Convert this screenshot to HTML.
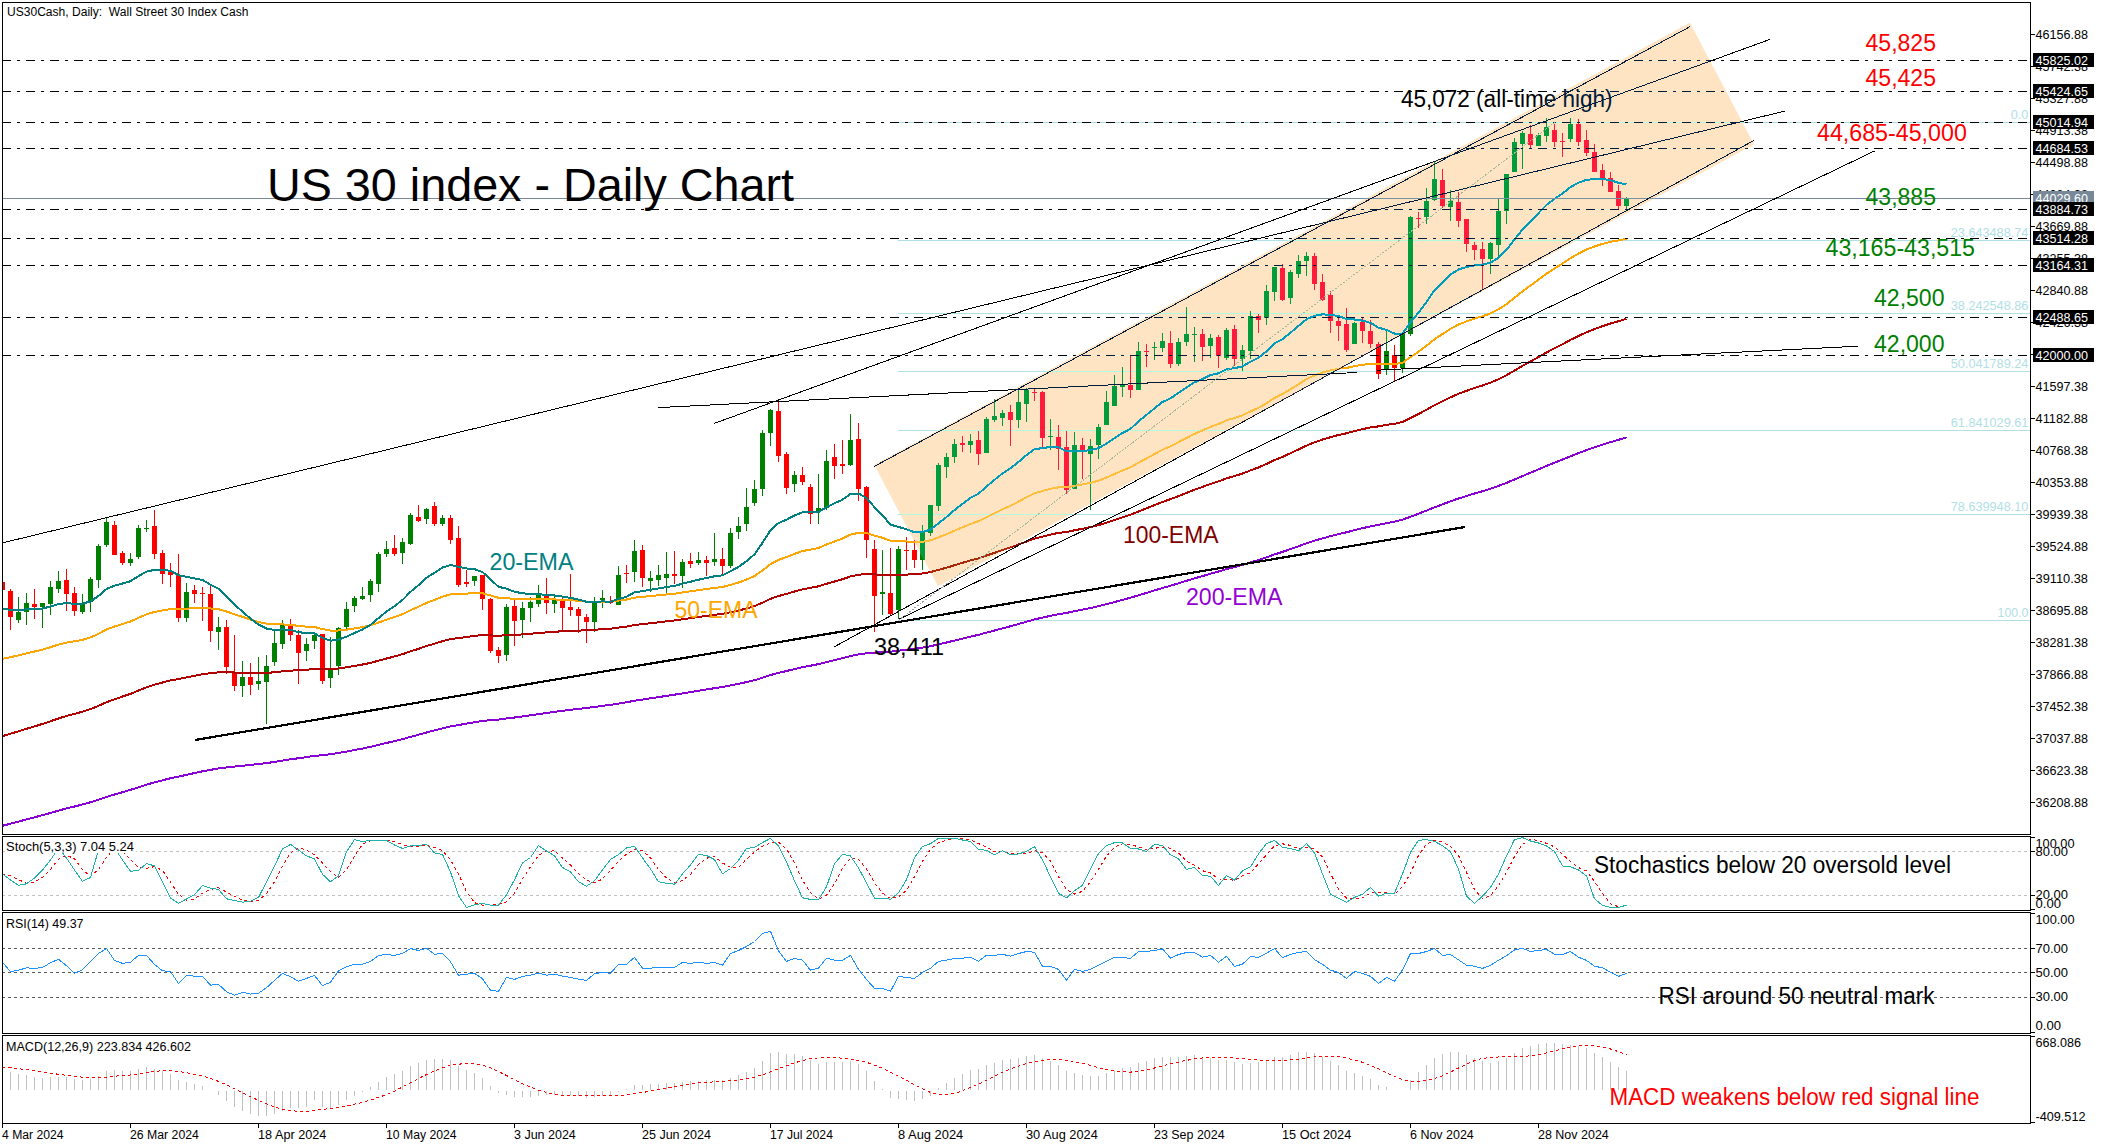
<!DOCTYPE html><html><head><meta charset="utf-8"><title>US30 Daily Chart</title><style>html,body{margin:0;padding:0;background:#fff;width:2107px;height:1147px;overflow:hidden}body{position:relative;font-family:"Liberation Sans", sans-serif}</style></head><body><svg width="2107" height="1147" viewBox="0 0 2107 1147" style="position:absolute;left:0;top:0;font-family:'Liberation Sans', sans-serif">
<rect x="0" y="0" width="2107" height="1147" fill="#ffffff"/>
<defs><clipPath id="cm"><rect x="3" y="3" width="2027" height="831"/></clipPath><clipPath id="cc"><polygon points="874,464.8 1690,22.6 1754.3,144.5 938,586.5"/></clipPath><clipPath id="cs"><rect x="3" y="837" width="2027" height="73"/></clipPath><clipPath id="cr"><rect x="3" y="913" width="2027" height="120"/></clipPath><clipPath id="cd"><rect x="3" y="1036" width="2027" height="87"/></clipPath></defs>
<g clip-path="url(#cm)">
<rect x="898" y="122" width="1132" height="1" fill="#b0e0e6"/><rect x="898" y="240" width="1132" height="1" fill="#b0e0e6"/><rect x="898" y="313" width="1132" height="1" fill="#b0e0e6"/><rect x="898" y="371" width="1132" height="1" fill="#b0e0e6"/><rect x="898" y="430" width="1132" height="1" fill="#b0e0e6"/><rect x="898" y="514" width="1132" height="1" fill="#b0e0e6"/><rect x="898" y="620" width="1132" height="1" fill="#b0e0e6"/><text x="2010.8" y="119.0" font-size="12.5px" fill="#b0e0e6" textLength="17.5" lengthAdjust="spacingAndGlyphs">0.0</text><text x="1950.8" y="237.0" font-size="12.5px" fill="#b0e0e6" textLength="77.5" lengthAdjust="spacingAndGlyphs">23.643488.74</text><text x="1950.8" y="310.0" font-size="12.5px" fill="#b0e0e6" textLength="77.5" lengthAdjust="spacingAndGlyphs">38.242548.86</text><text x="1950.8" y="368.0" font-size="12.5px" fill="#b0e0e6" textLength="77.5" lengthAdjust="spacingAndGlyphs">50.041789.24</text><text x="1950.8" y="427.0" font-size="12.5px" fill="#b0e0e6" textLength="77.5" lengthAdjust="spacingAndGlyphs">61.841029.61</text><text x="1950.8" y="511.0" font-size="12.5px" fill="#b0e0e6" textLength="77.5" lengthAdjust="spacingAndGlyphs">78.639948.10</text><text x="1997.6" y="617.0" font-size="12.5px" fill="#b0e0e6" textLength="30.7" lengthAdjust="spacingAndGlyphs">100.0</text><g shape-rendering="crispEdges"><rect x="2" y="580" width="1" height="12" fill="#ff0000"/><rect x="0" y="582" width="5" height="8" fill="#ff0000"/><rect x="10" y="589" width="1" height="41" fill="#ff0000"/><rect x="8" y="591" width="5" height="26" fill="#ff0000"/><rect x="18" y="597" width="1" height="26" fill="#008000"/><rect x="16" y="612" width="5" height="8" fill="#008000"/><rect x="26" y="593" width="1" height="32" fill="#008000"/><rect x="24" y="603" width="5" height="9" fill="#008000"/><rect x="34" y="589" width="1" height="30" fill="#ff0000"/><rect x="32" y="604" width="5" height="3" fill="#ff0000"/><rect x="42" y="603" width="1" height="25" fill="#008000"/><rect x="40" y="603" width="5" height="4" fill="#008000"/><rect x="50" y="581" width="1" height="34" fill="#008000"/><rect x="48" y="587" width="5" height="17" fill="#008000"/><rect x="58" y="571" width="1" height="22" fill="#008000"/><rect x="56" y="581" width="5" height="8" fill="#008000"/><rect x="66" y="569" width="1" height="42" fill="#ff0000"/><rect x="64" y="580" width="5" height="14" fill="#ff0000"/><rect x="74" y="587" width="1" height="29" fill="#ff0000"/><rect x="72" y="593" width="5" height="18" fill="#ff0000"/><rect x="82" y="594" width="1" height="20" fill="#008000"/><rect x="80" y="603" width="5" height="9" fill="#008000"/><rect x="90" y="577" width="1" height="35" fill="#008000"/><rect x="88" y="579" width="5" height="23" fill="#008000"/><rect x="98" y="544" width="1" height="44" fill="#008000"/><rect x="96" y="546" width="5" height="34" fill="#008000"/><rect x="106" y="518" width="1" height="29" fill="#008000"/><rect x="104" y="522" width="5" height="23" fill="#008000"/><rect x="114" y="521" width="1" height="34" fill="#ff0000"/><rect x="112" y="525" width="5" height="30" fill="#ff0000"/><rect x="122" y="551" width="1" height="14" fill="#ff0000"/><rect x="120" y="553" width="5" height="10" fill="#ff0000"/><rect x="130" y="553" width="1" height="13" fill="#008000"/><rect x="128" y="559" width="5" height="4" fill="#008000"/><rect x="138" y="525" width="1" height="34" fill="#008000"/><rect x="136" y="528" width="5" height="29" fill="#008000"/><rect x="146" y="520" width="1" height="12" fill="#008000"/><rect x="144" y="528" width="5" height="1" fill="#008000"/><rect x="154" y="510" width="1" height="49" fill="#ff0000"/><rect x="152" y="526" width="5" height="28" fill="#ff0000"/><rect x="162" y="550" width="1" height="34" fill="#ff0000"/><rect x="160" y="553" width="5" height="21" fill="#ff0000"/><rect x="170" y="563" width="1" height="24" fill="#ff0000"/><rect x="168" y="572" width="5" height="3" fill="#ff0000"/><rect x="178" y="554" width="1" height="68" fill="#ff0000"/><rect x="176" y="575" width="5" height="43" fill="#ff0000"/><rect x="186" y="583" width="1" height="39" fill="#008000"/><rect x="184" y="592" width="5" height="26" fill="#008000"/><rect x="194" y="585" width="1" height="18" fill="#ff0000"/><rect x="192" y="590" width="5" height="4" fill="#ff0000"/><rect x="202" y="587" width="1" height="34" fill="#ff0000"/><rect x="200" y="593" width="5" height="1" fill="#ff0000"/><rect x="210" y="586" width="1" height="56" fill="#ff0000"/><rect x="208" y="594" width="5" height="37" fill="#ff0000"/><rect x="218" y="617" width="1" height="33" fill="#008000"/><rect x="216" y="627" width="5" height="5" fill="#008000"/><rect x="226" y="620" width="1" height="54" fill="#ff0000"/><rect x="224" y="627" width="5" height="40" fill="#ff0000"/><rect x="234" y="635" width="1" height="56" fill="#ff0000"/><rect x="232" y="672" width="5" height="14" fill="#ff0000"/><rect x="242" y="661" width="1" height="36" fill="#008000"/><rect x="240" y="677" width="5" height="9" fill="#008000"/><rect x="250" y="663" width="1" height="32" fill="#ff0000"/><rect x="248" y="677" width="5" height="8" fill="#ff0000"/><rect x="258" y="657" width="1" height="33" fill="#008000"/><rect x="256" y="681" width="5" height="3" fill="#008000"/><rect x="266" y="655" width="1" height="69" fill="#008000"/><rect x="264" y="666" width="5" height="16" fill="#008000"/><rect x="274" y="630" width="1" height="36" fill="#008000"/><rect x="272" y="643" width="5" height="19" fill="#008000"/><rect x="282" y="620" width="1" height="29" fill="#008000"/><rect x="280" y="625" width="5" height="19" fill="#008000"/><rect x="290" y="619" width="1" height="22" fill="#ff0000"/><rect x="288" y="625" width="5" height="10" fill="#ff0000"/><rect x="298" y="630" width="1" height="54" fill="#ff0000"/><rect x="296" y="635" width="5" height="18" fill="#ff0000"/><rect x="306" y="638" width="1" height="23" fill="#008000"/><rect x="304" y="644" width="5" height="7" fill="#008000"/><rect x="314" y="634" width="1" height="15" fill="#008000"/><rect x="312" y="635" width="5" height="6" fill="#008000"/><rect x="322" y="634" width="1" height="50" fill="#ff0000"/><rect x="320" y="634" width="5" height="47" fill="#ff0000"/><rect x="330" y="637" width="1" height="51" fill="#008000"/><rect x="328" y="668" width="5" height="10" fill="#008000"/><rect x="338" y="627" width="1" height="48" fill="#008000"/><rect x="336" y="628" width="5" height="38" fill="#008000"/><rect x="346" y="602" width="1" height="29" fill="#008000"/><rect x="344" y="609" width="5" height="18" fill="#008000"/><rect x="354" y="596" width="1" height="16" fill="#008000"/><rect x="352" y="598" width="5" height="8" fill="#008000"/><rect x="362" y="587" width="1" height="13" fill="#008000"/><rect x="360" y="596" width="5" height="3" fill="#008000"/><rect x="370" y="579" width="1" height="23" fill="#008000"/><rect x="368" y="581" width="5" height="14" fill="#008000"/><rect x="378" y="552" width="1" height="40" fill="#008000"/><rect x="376" y="554" width="5" height="30" fill="#008000"/><rect x="386" y="541" width="1" height="16" fill="#008000"/><rect x="384" y="549" width="5" height="5" fill="#008000"/><rect x="394" y="535" width="1" height="21" fill="#ff0000"/><rect x="392" y="548" width="5" height="6" fill="#ff0000"/><rect x="402" y="538" width="1" height="26" fill="#008000"/><rect x="400" y="542" width="5" height="11" fill="#008000"/><rect x="410" y="513" width="1" height="32" fill="#008000"/><rect x="408" y="515" width="5" height="29" fill="#008000"/><rect x="418" y="505" width="1" height="17" fill="#ff0000"/><rect x="416" y="517" width="5" height="4" fill="#ff0000"/><rect x="426" y="508" width="1" height="16" fill="#008000"/><rect x="424" y="509" width="5" height="10" fill="#008000"/><rect x="434" y="502" width="1" height="24" fill="#ff0000"/><rect x="432" y="506" width="5" height="18" fill="#ff0000"/><rect x="442" y="515" width="1" height="11" fill="#008000"/><rect x="440" y="518" width="5" height="6" fill="#008000"/><rect x="450" y="515" width="1" height="29" fill="#ff0000"/><rect x="448" y="518" width="5" height="22" fill="#ff0000"/><rect x="458" y="526" width="1" height="61" fill="#ff0000"/><rect x="456" y="538" width="5" height="47" fill="#ff0000"/><rect x="466" y="570" width="1" height="17" fill="#ff0000"/><rect x="464" y="582" width="5" height="2" fill="#ff0000"/><rect x="474" y="576" width="1" height="10" fill="#008000"/><rect x="472" y="576" width="5" height="5" fill="#008000"/><rect x="482" y="575" width="1" height="35" fill="#ff0000"/><rect x="480" y="575" width="5" height="24" fill="#ff0000"/><rect x="490" y="598" width="1" height="55" fill="#ff0000"/><rect x="488" y="599" width="5" height="52" fill="#ff0000"/><rect x="498" y="647" width="1" height="16" fill="#ff0000"/><rect x="496" y="650" width="5" height="6" fill="#ff0000"/><rect x="506" y="604" width="1" height="57" fill="#008000"/><rect x="504" y="607" width="5" height="48" fill="#008000"/><rect x="514" y="600" width="1" height="46" fill="#ff0000"/><rect x="512" y="606" width="5" height="15" fill="#ff0000"/><rect x="522" y="602" width="1" height="36" fill="#008000"/><rect x="520" y="608" width="5" height="12" fill="#008000"/><rect x="530" y="597" width="1" height="25" fill="#008000"/><rect x="528" y="602" width="5" height="6" fill="#008000"/><rect x="538" y="585" width="1" height="22" fill="#008000"/><rect x="536" y="595" width="5" height="9" fill="#008000"/><rect x="546" y="578" width="1" height="36" fill="#ff0000"/><rect x="544" y="595" width="5" height="8" fill="#ff0000"/><rect x="554" y="596" width="1" height="17" fill="#008000"/><rect x="552" y="600" width="5" height="4" fill="#008000"/><rect x="562" y="597" width="1" height="33" fill="#ff0000"/><rect x="560" y="599" width="5" height="9" fill="#ff0000"/><rect x="570" y="574" width="1" height="42" fill="#ff0000"/><rect x="568" y="607" width="5" height="3" fill="#ff0000"/><rect x="578" y="607" width="1" height="26" fill="#ff0000"/><rect x="576" y="609" width="5" height="7" fill="#ff0000"/><rect x="586" y="614" width="1" height="29" fill="#ff0000"/><rect x="584" y="617" width="5" height="5" fill="#ff0000"/><rect x="594" y="597" width="1" height="35" fill="#008000"/><rect x="592" y="602" width="5" height="20" fill="#008000"/><rect x="602" y="590" width="1" height="18" fill="#008000"/><rect x="600" y="598" width="5" height="2" fill="#008000"/><rect x="610" y="596" width="1" height="8" fill="#ff0000"/><rect x="608" y="602" width="5" height="1" fill="#ff0000"/><rect x="618" y="566" width="1" height="39" fill="#008000"/><rect x="616" y="575" width="5" height="30" fill="#008000"/><rect x="626" y="565" width="1" height="18" fill="#ff0000"/><rect x="624" y="573" width="5" height="1" fill="#ff0000"/><rect x="634" y="540" width="1" height="42" fill="#008000"/><rect x="632" y="551" width="5" height="21" fill="#008000"/><rect x="642" y="545" width="1" height="42" fill="#ff0000"/><rect x="640" y="550" width="5" height="28" fill="#ff0000"/><rect x="650" y="571" width="1" height="21" fill="#008000"/><rect x="648" y="578" width="5" height="3" fill="#008000"/><rect x="658" y="565" width="1" height="21" fill="#008000"/><rect x="656" y="575" width="5" height="5" fill="#008000"/><rect x="666" y="552" width="1" height="41" fill="#008000"/><rect x="664" y="574" width="5" height="4" fill="#008000"/><rect x="674" y="551" width="1" height="33" fill="#ff0000"/><rect x="672" y="574" width="5" height="2" fill="#ff0000"/><rect x="682" y="559" width="1" height="29" fill="#008000"/><rect x="680" y="562" width="5" height="14" fill="#008000"/><rect x="690" y="553" width="1" height="15" fill="#ff0000"/><rect x="688" y="561" width="5" height="3" fill="#ff0000"/><rect x="698" y="552" width="1" height="13" fill="#008000"/><rect x="696" y="560" width="5" height="3" fill="#008000"/><rect x="706" y="556" width="1" height="20" fill="#ff0000"/><rect x="704" y="560" width="5" height="3" fill="#ff0000"/><rect x="714" y="533" width="1" height="33" fill="#008000"/><rect x="712" y="559" width="5" height="3" fill="#008000"/><rect x="722" y="548" width="1" height="26" fill="#ff0000"/><rect x="720" y="559" width="5" height="7" fill="#ff0000"/><rect x="730" y="528" width="1" height="40" fill="#008000"/><rect x="728" y="533" width="5" height="33" fill="#008000"/><rect x="738" y="517" width="1" height="22" fill="#008000"/><rect x="736" y="526" width="5" height="6" fill="#008000"/><rect x="746" y="488" width="1" height="43" fill="#008000"/><rect x="744" y="507" width="5" height="17" fill="#008000"/><rect x="754" y="480" width="1" height="26" fill="#008000"/><rect x="752" y="489" width="5" height="14" fill="#008000"/><rect x="762" y="430" width="1" height="66" fill="#008000"/><rect x="760" y="433" width="5" height="56" fill="#008000"/><rect x="770" y="409" width="1" height="37" fill="#008000"/><rect x="768" y="410" width="5" height="23" fill="#008000"/><rect x="778" y="402" width="1" height="60" fill="#ff0000"/><rect x="776" y="411" width="5" height="45" fill="#ff0000"/><rect x="786" y="452" width="1" height="42" fill="#ff0000"/><rect x="784" y="454" width="5" height="34" fill="#ff0000"/><rect x="794" y="471" width="1" height="21" fill="#008000"/><rect x="792" y="475" width="5" height="9" fill="#008000"/><rect x="802" y="467" width="1" height="18" fill="#ff0000"/><rect x="800" y="475" width="5" height="7" fill="#ff0000"/><rect x="810" y="484" width="1" height="40" fill="#ff0000"/><rect x="808" y="487" width="5" height="27" fill="#ff0000"/><rect x="818" y="474" width="1" height="50" fill="#008000"/><rect x="816" y="508" width="5" height="4" fill="#008000"/><rect x="826" y="450" width="1" height="60" fill="#008000"/><rect x="824" y="461" width="5" height="47" fill="#008000"/><rect x="834" y="444" width="1" height="35" fill="#ff0000"/><rect x="832" y="457" width="5" height="9" fill="#ff0000"/><rect x="842" y="440" width="1" height="34" fill="#ff0000"/><rect x="840" y="464" width="5" height="2" fill="#ff0000"/><rect x="850" y="414" width="1" height="52" fill="#008000"/><rect x="848" y="440" width="5" height="25" fill="#008000"/><rect x="858" y="423" width="1" height="78" fill="#ff0000"/><rect x="856" y="439" width="5" height="50" fill="#ff0000"/><rect x="866" y="486" width="1" height="72" fill="#ff0000"/><rect x="864" y="487" width="5" height="53" fill="#ff0000"/><rect x="874" y="540" width="1" height="92" fill="#ff0000"/><rect x="872" y="549" width="5" height="47" fill="#ff0000"/><rect x="882" y="550" width="1" height="65" fill="#008000"/><rect x="880" y="592" width="5" height="2" fill="#008000"/><rect x="890" y="548" width="1" height="67" fill="#ff0000"/><rect x="888" y="593" width="5" height="21" fill="#ff0000"/><rect x="898" y="546" width="1" height="73" fill="#008000"/><rect x="896" y="549" width="5" height="61" fill="#008000"/><rect x="906" y="537" width="1" height="33" fill="#ff0000"/><rect x="904" y="550" width="5" height="1" fill="#ff0000"/><rect x="914" y="540" width="1" height="28" fill="#ff0000"/><rect x="912" y="550" width="5" height="10" fill="#ff0000"/><rect x="922" y="525" width="1" height="45" fill="#008000"/><rect x="920" y="532" width="5" height="28" fill="#008000"/><rect x="930" y="505" width="1" height="31" fill="#008000"/><rect x="928" y="505" width="5" height="28" fill="#008000"/><rect x="938" y="463" width="1" height="48" fill="#008000"/><rect x="936" y="465" width="5" height="41" fill="#008000"/><rect x="946" y="453" width="1" height="25" fill="#008000"/><rect x="944" y="457" width="5" height="10" fill="#008000"/><rect x="954" y="439" width="1" height="24" fill="#008000"/><rect x="952" y="444" width="5" height="13" fill="#008000"/><rect x="962" y="436" width="1" height="16" fill="#ff0000"/><rect x="960" y="443" width="5" height="2" fill="#ff0000"/><rect x="970" y="434" width="1" height="19" fill="#008000"/><rect x="968" y="441" width="5" height="4" fill="#008000"/><rect x="978" y="431" width="1" height="34" fill="#ff0000"/><rect x="976" y="440" width="5" height="14" fill="#ff0000"/><rect x="986" y="417" width="1" height="36" fill="#008000"/><rect x="984" y="419" width="5" height="34" fill="#008000"/><rect x="994" y="399" width="1" height="23" fill="#008000"/><rect x="992" y="416" width="5" height="4" fill="#008000"/><rect x="1002" y="410" width="1" height="16" fill="#008000"/><rect x="1000" y="413" width="5" height="5" fill="#008000"/><rect x="1010" y="405" width="1" height="41" fill="#ff0000"/><rect x="1008" y="412" width="5" height="8" fill="#ff0000"/><rect x="1018" y="388" width="1" height="40" fill="#008000"/><rect x="1016" y="402" width="5" height="18" fill="#008000"/><rect x="1026" y="388" width="1" height="34" fill="#008000"/><rect x="1024" y="390" width="5" height="14" fill="#008000"/><rect x="1034" y="389" width="1" height="12" fill="#ff0000"/><rect x="1032" y="392" width="5" height="1" fill="#ff0000"/><rect x="1042" y="391" width="1" height="56" fill="#ff0000"/><rect x="1040" y="392" width="5" height="46" fill="#ff0000"/><rect x="1050" y="419" width="1" height="31" fill="#008000"/><rect x="1048" y="436" width="5" height="1" fill="#008000"/><rect x="1058" y="425" width="1" height="45" fill="#ff0000"/><rect x="1056" y="437" width="5" height="12" fill="#ff0000"/><rect x="1066" y="431" width="1" height="63" fill="#ff0000"/><rect x="1064" y="447" width="5" height="43" fill="#ff0000"/><rect x="1074" y="432" width="1" height="57" fill="#008000"/><rect x="1072" y="445" width="5" height="44" fill="#008000"/><rect x="1082" y="438" width="1" height="41" fill="#ff0000"/><rect x="1080" y="445" width="5" height="7" fill="#ff0000"/><rect x="1090" y="439" width="1" height="71" fill="#008000"/><rect x="1088" y="446" width="5" height="8" fill="#008000"/><rect x="1098" y="424" width="1" height="35" fill="#008000"/><rect x="1096" y="427" width="5" height="18" fill="#008000"/><rect x="1106" y="391" width="1" height="34" fill="#008000"/><rect x="1104" y="402" width="5" height="23" fill="#008000"/><rect x="1114" y="375" width="1" height="31" fill="#008000"/><rect x="1112" y="386" width="5" height="20" fill="#008000"/><rect x="1122" y="367" width="1" height="30" fill="#008000"/><rect x="1120" y="384" width="5" height="3" fill="#008000"/><rect x="1130" y="356" width="1" height="42" fill="#ff0000"/><rect x="1128" y="385" width="5" height="5" fill="#ff0000"/><rect x="1138" y="342" width="1" height="48" fill="#008000"/><rect x="1136" y="351" width="5" height="39" fill="#008000"/><rect x="1146" y="344" width="1" height="23" fill="#ff0000"/><rect x="1144" y="351" width="5" height="1" fill="#ff0000"/><rect x="1154" y="342" width="1" height="18" fill="#008000"/><rect x="1152" y="347" width="5" height="1" fill="#008000"/><rect x="1162" y="333" width="1" height="19" fill="#008000"/><rect x="1160" y="341" width="5" height="7" fill="#008000"/><rect x="1170" y="331" width="1" height="37" fill="#ff0000"/><rect x="1168" y="343" width="5" height="21" fill="#ff0000"/><rect x="1178" y="338" width="1" height="28" fill="#008000"/><rect x="1176" y="342" width="5" height="22" fill="#008000"/><rect x="1186" y="307" width="1" height="39" fill="#008000"/><rect x="1184" y="334" width="5" height="8" fill="#008000"/><rect x="1194" y="327" width="1" height="35" fill="#008000"/><rect x="1192" y="334" width="5" height="1" fill="#008000"/><rect x="1202" y="329" width="1" height="32" fill="#ff0000"/><rect x="1200" y="334" width="5" height="13" fill="#ff0000"/><rect x="1210" y="334" width="1" height="24" fill="#008000"/><rect x="1208" y="338" width="5" height="8" fill="#008000"/><rect x="1218" y="335" width="1" height="33" fill="#ff0000"/><rect x="1216" y="337" width="5" height="19" fill="#ff0000"/><rect x="1226" y="328" width="1" height="32" fill="#008000"/><rect x="1224" y="330" width="5" height="28" fill="#008000"/><rect x="1234" y="325" width="1" height="41" fill="#ff0000"/><rect x="1232" y="329" width="5" height="30" fill="#ff0000"/><rect x="1242" y="345" width="1" height="26" fill="#008000"/><rect x="1240" y="350" width="5" height="9" fill="#008000"/><rect x="1250" y="311" width="1" height="48" fill="#008000"/><rect x="1248" y="316" width="5" height="35" fill="#008000"/><rect x="1258" y="314" width="1" height="19" fill="#ff0000"/><rect x="1256" y="316" width="5" height="4" fill="#ff0000"/><rect x="1266" y="285" width="1" height="40" fill="#008000"/><rect x="1264" y="291" width="5" height="27" fill="#008000"/><rect x="1274" y="267" width="1" height="34" fill="#008000"/><rect x="1272" y="267" width="5" height="25" fill="#008000"/><rect x="1282" y="264" width="1" height="37" fill="#ff0000"/><rect x="1280" y="268" width="5" height="32" fill="#ff0000"/><rect x="1290" y="270" width="1" height="34" fill="#008000"/><rect x="1288" y="272" width="5" height="26" fill="#008000"/><rect x="1298" y="255" width="1" height="23" fill="#008000"/><rect x="1296" y="261" width="5" height="13" fill="#008000"/><rect x="1306" y="252" width="1" height="24" fill="#008000"/><rect x="1304" y="256" width="5" height="5" fill="#008000"/><rect x="1314" y="253" width="1" height="37" fill="#ff0000"/><rect x="1312" y="256" width="5" height="28" fill="#ff0000"/><rect x="1322" y="274" width="1" height="27" fill="#ff0000"/><rect x="1320" y="282" width="5" height="18" fill="#ff0000"/><rect x="1330" y="291" width="1" height="42" fill="#ff0000"/><rect x="1328" y="295" width="5" height="26" fill="#ff0000"/><rect x="1338" y="315" width="1" height="26" fill="#ff0000"/><rect x="1336" y="321" width="5" height="5" fill="#ff0000"/><rect x="1346" y="308" width="1" height="44" fill="#ff0000"/><rect x="1344" y="324" width="5" height="26" fill="#ff0000"/><rect x="1354" y="322" width="1" height="22" fill="#008000"/><rect x="1352" y="323" width="5" height="21" fill="#008000"/><rect x="1362" y="318" width="1" height="25" fill="#ff0000"/><rect x="1360" y="322" width="5" height="9" fill="#ff0000"/><rect x="1370" y="320" width="1" height="28" fill="#ff0000"/><rect x="1368" y="331" width="5" height="13" fill="#ff0000"/><rect x="1378" y="342" width="1" height="37" fill="#ff0000"/><rect x="1376" y="344" width="5" height="30" fill="#ff0000"/><rect x="1386" y="331" width="1" height="44" fill="#008000"/><rect x="1384" y="351" width="5" height="19" fill="#008000"/><rect x="1394" y="345" width="1" height="37" fill="#ff0000"/><rect x="1392" y="355" width="5" height="13" fill="#ff0000"/><rect x="1402" y="332" width="1" height="41" fill="#008000"/><rect x="1400" y="333" width="5" height="35" fill="#008000"/><rect x="1410" y="216" width="1" height="120" fill="#008000"/><rect x="1408" y="217" width="5" height="117" fill="#008000"/><rect x="1418" y="212" width="1" height="16" fill="#ff0000"/><rect x="1416" y="218" width="5" height="1" fill="#ff0000"/><rect x="1426" y="188" width="1" height="36" fill="#008000"/><rect x="1424" y="201" width="5" height="16" fill="#008000"/><rect x="1434" y="162" width="1" height="39" fill="#008000"/><rect x="1432" y="179" width="5" height="21" fill="#008000"/><rect x="1442" y="169" width="1" height="39" fill="#ff0000"/><rect x="1440" y="180" width="5" height="26" fill="#ff0000"/><rect x="1450" y="190" width="1" height="31" fill="#008000"/><rect x="1448" y="201" width="5" height="6" fill="#008000"/><rect x="1458" y="192" width="1" height="35" fill="#ff0000"/><rect x="1456" y="202" width="5" height="19" fill="#ff0000"/><rect x="1466" y="219" width="1" height="33" fill="#ff0000"/><rect x="1464" y="219" width="5" height="25" fill="#ff0000"/><rect x="1474" y="242" width="1" height="18" fill="#ff0000"/><rect x="1472" y="245" width="5" height="5" fill="#ff0000"/><rect x="1482" y="242" width="1" height="47" fill="#ff0000"/><rect x="1480" y="249" width="5" height="10" fill="#ff0000"/><rect x="1490" y="242" width="1" height="32" fill="#008000"/><rect x="1488" y="243" width="5" height="16" fill="#008000"/><rect x="1498" y="199" width="1" height="57" fill="#008000"/><rect x="1496" y="211" width="5" height="34" fill="#008000"/><rect x="1506" y="174" width="1" height="50" fill="#008000"/><rect x="1504" y="174" width="5" height="37" fill="#008000"/><rect x="1514" y="138" width="1" height="34" fill="#008000"/><rect x="1512" y="142" width="5" height="30" fill="#008000"/><rect x="1522" y="131" width="1" height="38" fill="#008000"/><rect x="1520" y="133" width="5" height="11" fill="#008000"/><rect x="1530" y="125" width="1" height="23" fill="#ff0000"/><rect x="1528" y="134" width="5" height="11" fill="#ff0000"/><rect x="1538" y="133" width="1" height="13" fill="#008000"/><rect x="1536" y="135" width="5" height="11" fill="#008000"/><rect x="1546" y="118" width="1" height="24" fill="#008000"/><rect x="1544" y="127" width="5" height="9" fill="#008000"/><rect x="1554" y="124" width="1" height="23" fill="#ff0000"/><rect x="1552" y="130" width="5" height="12" fill="#ff0000"/><rect x="1562" y="133" width="1" height="24" fill="#ff0000"/><rect x="1560" y="141" width="5" height="1" fill="#ff0000"/><rect x="1570" y="118" width="1" height="24" fill="#008000"/><rect x="1568" y="124" width="5" height="15" fill="#008000"/><rect x="1578" y="119" width="1" height="27" fill="#ff0000"/><rect x="1576" y="124" width="5" height="18" fill="#ff0000"/><rect x="1586" y="130" width="1" height="26" fill="#ff0000"/><rect x="1584" y="140" width="5" height="13" fill="#ff0000"/><rect x="1594" y="144" width="1" height="28" fill="#ff0000"/><rect x="1592" y="152" width="5" height="20" fill="#ff0000"/><rect x="1602" y="164" width="1" height="22" fill="#ff0000"/><rect x="1600" y="170" width="5" height="8" fill="#ff0000"/><rect x="1610" y="172" width="1" height="20" fill="#ff0000"/><rect x="1608" y="178" width="5" height="14" fill="#ff0000"/><rect x="1618" y="185" width="1" height="24" fill="#ff0000"/><rect x="1616" y="191" width="5" height="15" fill="#ff0000"/><rect x="1626" y="197" width="1" height="12" fill="#008000"/><rect x="1624" y="199" width="5" height="7" fill="#008000"/></g><polyline points="2.5,825.8 10.5,823.73 18.5,821.62 26.5,819.45 34.5,817.33 42.5,815.2 50.5,812.93 58.5,810.62 66.5,808.46 74.5,806.49 82.5,804.47 90.5,802.22 98.5,799.67 106.5,796.91 114.5,794.5 122.5,792.19 130.5,789.87 138.5,787.27 146.5,784.69 154.5,782.39 162.5,780.31 170.5,778.27 178.5,776.67 186.5,774.84 194.5,773.04 202.5,771.26 210.5,769.86 218.5,768.44 226.5,767.43 234.5,766.61 242.5,765.72 250.5,764.92 258.5,764.08 266.5,763.11 274.5,761.91 282.5,760.55 290.5,759.3 298.5,758.24 306.5,757.1 314.5,755.89 322.5,755.14 330.5,754.27 338.5,753.02 346.5,751.58 354.5,750.06 362.5,748.53 370.5,746.86 378.5,744.94 386.5,742.99 394.5,741.11 402.5,739.13 410.5,736.9 418.5,734.75 426.5,732.51 434.5,730.43 442.5,728.32 450.5,726.44 458.5,725.04 466.5,723.64 474.5,722.17 482.5,720.94 490.5,720.24 498.5,719.6 506.5,718.48 514.5,717.51 522.5,716.42 530.5,715.28 538.5,714.08 546.5,712.97 554.5,711.84 562.5,710.81 570.5,709.8 578.5,708.87 586.5,708.01 594.5,706.95 602.5,705.87 610.5,704.85 618.5,703.56 626.5,702.27 634.5,700.76 642.5,699.55 650.5,698.34 658.5,697.11 666.5,695.89 674.5,694.69 682.5,693.37 690.5,692.08 698.5,690.77 706.5,689.49 714.5,688.2 722.5,686.98 730.5,685.44 738.5,683.85 746.5,682.1 754.5,680.18 762.5,677.72 770.5,675.05 778.5,672.87 786.5,671.03 794.5,669.08 802.5,667.22 810.5,665.69 818.5,664.13 826.5,662.11 834.5,660.16 842.5,658.22 850.5,656.05 858.5,654.39 866.5,653.25 874.5,652.67 882.5,652.07 890.5,651.69 898.5,650.66 906.5,649.67 914.5,648.78 922.5,647.61 930.5,646.19 938.5,644.39 946.5,642.52 954.5,640.55 962.5,638.6 970.5,636.63 978.5,634.81 986.5,632.66 994.5,630.5 1002.5,628.34 1010.5,626.26 1018.5,624.03 1026.5,621.7 1034.5,619.43 1042.5,617.62 1050.5,615.81 1058.5,614.15 1066.5,612.91 1074.5,611.24 1082.5,609.66 1090.5,608.03 1098.5,606.23 1106.5,604.19 1114.5,602.02 1122.5,599.85 1130.5,597.76 1138.5,595.3 1146.5,592.88 1154.5,590.44 1162.5,587.96 1170.5,585.72 1178.5,583.3 1186.5,580.82 1194.5,578.37 1202.5,576.06 1210.5,573.7 1218.5,571.53 1226.5,569.13 1234.5,567.04 1242.5,564.88 1250.5,562.4 1258.5,559.99 1266.5,557.31 1274.5,554.42 1282.5,551.89 1290.5,549.1 1298.5,546.24 1306.5,543.35 1314.5,540.76 1322.5,538.36 1330.5,536.2 1338.5,534.1 1346.5,532.27 1354.5,530.19 1362.5,528.21 1370.5,526.37 1378.5,524.85 1386.5,523.12 1394.5,521.58 1402.5,519.71 1410.5,516.7 1418.5,513.74 1426.5,510.63 1434.5,507.33 1442.5,504.33 1450.5,501.32 1458.5,498.52 1466.5,495.99 1474.5,493.54 1482.5,491.2 1490.5,488.74 1498.5,485.97 1506.5,482.87 1514.5,479.48 1522.5,476.03 1530.5,472.74 1538.5,469.38 1546.5,465.97 1554.5,462.75 1562.5,459.57 1570.5,456.23 1578.5,453.1 1586.5,450.11 1594.5,447.34 1602.5,444.66 1610.5,442.15 1618.5,439.81 1626.5,437.41" fill="none" stroke="#8a00d4" stroke-width="2" stroke-linejoin="round" shape-rendering="crispEdges"/><polyline points="2.5,736.1 10.5,733.75 18.5,731.34 26.5,728.8 34.5,726.39 42.5,723.94 50.5,721.23 58.5,718.45 66.5,715.98 74.5,713.9 82.5,711.7 90.5,709.06 98.5,705.84 106.5,702.2 114.5,699.27 122.5,696.57 130.5,693.85 138.5,690.57 146.5,687.34 154.5,684.7 162.5,682.5 170.5,680.37 178.5,679.13 186.5,677.42 194.5,675.76 202.5,674.14 210.5,673.28 218.5,672.37 226.5,672.26 234.5,672.52 242.5,672.61 250.5,672.86 258.5,673.02 266.5,672.88 274.5,672.29 282.5,671.35 290.5,670.62 298.5,670.27 306.5,669.75 314.5,669.06 322.5,669.29 330.5,669.27 338.5,668.46 346.5,667.28 354.5,665.91 362.5,664.53 370.5,662.87 378.5,660.72 386.5,658.51 394.5,656.44 402.5,654.17 410.5,651.42 418.5,648.84 426.5,646.07 434.5,643.65 442.5,641.17 450.5,639.16 458.5,638.09 466.5,637.02 474.5,635.81 482.5,635.08 490.5,635.39 498.5,635.79 506.5,635.22 514.5,634.94 522.5,634.4 530.5,633.76 538.5,632.98 546.5,632.38 554.5,631.74 562.5,631.27 570.5,630.84 578.5,630.55 586.5,630.38 594.5,629.82 602.5,629.19 610.5,628.68 618.5,627.62 626.5,626.56 634.5,625.06 642.5,624.14 650.5,623.23 658.5,622.28 666.5,621.32 674.5,620.42 682.5,619.26 690.5,618.16 698.5,617.01 706.5,615.93 714.5,614.81 722.5,613.84 730.5,612.23 738.5,610.52 746.5,608.47 754.5,606.11 762.5,602.68 770.5,598.87 778.5,596.03 786.5,593.89 794.5,591.54 802.5,589.38 810.5,587.88 818.5,586.3 826.5,583.82 834.5,581.5 842.5,579.2 850.5,576.44 858.5,574.71 866.5,574.01 874.5,574.44 882.5,574.79 890.5,575.56 898.5,575.03 906.5,574.56 914.5,574.26 922.5,573.42 930.5,572.06 938.5,569.94 946.5,567.69 954.5,565.25 962.5,562.86 970.5,560.45 978.5,558.33 986.5,555.57 994.5,552.81 1002.5,550.03 1010.5,547.45 1018.5,544.57 1026.5,541.51 1034.5,538.57 1042.5,536.57 1050.5,534.57 1058.5,532.89 1066.5,532.03 1074.5,530.3 1082.5,528.76 1090.5,527.12 1098.5,525.13 1106.5,522.69 1114.5,519.98 1122.5,517.29 1130.5,514.76 1138.5,511.51 1146.5,508.36 1154.5,505.16 1162.5,501.92 1170.5,499.18 1178.5,496.07 1186.5,492.86 1194.5,489.72 1202.5,486.89 1210.5,483.94 1218.5,481.42 1226.5,478.42 1234.5,476.05 1242.5,473.56 1250.5,470.44 1258.5,467.45 1266.5,463.96 1274.5,460.06 1282.5,456.89 1290.5,453.23 1298.5,449.42 1306.5,445.59 1314.5,442.38 1322.5,439.55 1330.5,437.2 1338.5,434.99 1346.5,433.3 1354.5,431.11 1362.5,429.14 1370.5,427.44 1378.5,426.38 1386.5,424.89 1394.5,423.77 1402.5,421.97 1410.5,417.92 1418.5,413.99 1426.5,409.77 1434.5,405.21 1442.5,401.27 1450.5,397.3 1458.5,393.81 1466.5,390.84 1474.5,388.05 1482.5,385.48 1490.5,382.66 1498.5,379.26 1506.5,375.21 1514.5,370.59 1522.5,365.89 1530.5,361.51 1538.5,357.02 1546.5,352.47 1554.5,348.31 1562.5,344.24 1570.5,339.88 1578.5,335.96 1586.5,332.33 1594.5,329.15 1602.5,326.16 1610.5,323.51 1618.5,321.2 1626.5,318.77" fill="none" stroke="#b00000" stroke-width="2" stroke-linejoin="round" shape-rendering="crispEdges"/><polyline points="2.5,658.8 10.5,657.18 18.5,655.41 26.5,653.36 34.5,651.53 42.5,649.63 50.5,647.17 58.5,644.58 66.5,642.58 74.5,641.33 82.5,639.83 90.5,637.42 98.5,633.84 106.5,629.45 114.5,626.52 122.5,624.02 130.5,621.48 138.5,617.82 146.5,614.28 154.5,611.91 162.5,610.41 170.5,609.02 178.5,609.37 186.5,608.7 194.5,608.12 202.5,607.56 210.5,608.47 218.5,609.2 226.5,611.46 234.5,614.37 242.5,616.83 250.5,619.5 258.5,621.92 266.5,623.65 274.5,624.41 282.5,624.42 290.5,624.83 298.5,625.92 306.5,626.63 314.5,626.96 322.5,629.07 330.5,630.61 338.5,630.5 346.5,629.66 354.5,628.43 362.5,627.16 370.5,625.35 378.5,622.56 386.5,619.67 394.5,617.09 402.5,614.15 410.5,610.27 418.5,606.77 426.5,602.94 434.5,599.84 442.5,596.64 450.5,594.41 458.5,594.05 466.5,593.65 474.5,592.96 482.5,593.19 490.5,595.45 498.5,597.81 506.5,598.17 514.5,599.06 522.5,599.41 530.5,599.51 538.5,599.32 546.5,599.44 554.5,599.46 562.5,599.79 570.5,600.17 578.5,600.81 586.5,601.64 594.5,601.65 602.5,601.52 610.5,601.59 618.5,600.55 626.5,599.51 634.5,597.61 642.5,596.86 650.5,596.12 658.5,595.3 666.5,594.47 674.5,593.73 682.5,592.49 690.5,591.35 698.5,590.13 706.5,589.05 714.5,587.88 722.5,587.01 730.5,584.89 738.5,582.56 746.5,579.6 754.5,576.06 762.5,570.45 770.5,564.16 778.5,559.91 786.5,557.08 794.5,553.86 802.5,551.07 810.5,549.59 818.5,547.97 826.5,544.57 834.5,541.51 842.5,538.52 850.5,534.65 858.5,532.86 866.5,533.13 874.5,535.58 882.5,537.79 890.5,540.77 898.5,541.08 906.5,541.47 914.5,542.19 922.5,541.77 930.5,540.32 938.5,537.37 946.5,534.2 954.5,530.68 962.5,527.31 970.5,523.92 978.5,521.16 986.5,517.15 994.5,513.18 1002.5,509.24 1010.5,505.73 1018.5,501.65 1026.5,497.27 1034.5,493.19 1042.5,491.01 1050.5,488.84 1058.5,487.3 1066.5,487.38 1074.5,485.72 1082.5,484.41 1090.5,482.9 1098.5,480.7 1106.5,477.61 1114.5,474.01 1122.5,470.48 1130.5,467.3 1138.5,462.74 1146.5,458.4 1154.5,454.04 1162.5,449.61 1170.5,446.25 1178.5,442.16 1186.5,437.92 1194.5,433.86 1202.5,430.44 1210.5,426.82 1218.5,424.06 1226.5,420.37 1234.5,417.96 1242.5,415.3 1250.5,411.4 1258.5,407.81 1266.5,403.23 1274.5,397.89 1282.5,394.05 1290.5,389.25 1298.5,384.22 1306.5,379.19 1314.5,375.44 1322.5,372.47 1330.5,370.43 1338.5,368.68 1346.5,367.93 1354.5,366.17 1362.5,364.81 1370.5,363.97 1378.5,364.36 1386.5,363.84 1394.5,364.02 1402.5,362.79 1410.5,357.09 1418.5,351.69 1426.5,345.78 1434.5,339.25 1442.5,334.04 1450.5,328.82 1458.5,324.58 1466.5,321.42 1474.5,318.62 1482.5,316.26 1490.5,313.39 1498.5,309.37 1506.5,304.08 1514.5,297.72 1522.5,291.27 1530.5,285.53 1538.5,279.62 1546.5,273.64 1554.5,268.5 1562.5,263.56 1570.5,258.09 1578.5,253.53 1586.5,249.58 1594.5,246.52 1602.5,243.85 1610.5,241.83 1618.5,240.45 1626.5,238.81" fill="none" stroke="#ffa500" stroke-width="2" stroke-linejoin="round" shape-rendering="crispEdges"/><polyline points="2.5,609 10.5,609.8 18.5,610.03 26.5,609.36 34.5,609.12 42.5,608.53 50.5,606.47 58.5,604.06 66.5,603.06 74.5,603.79 82.5,603.71 90.5,601.32 98.5,596.05 106.5,589 114.5,585.73 122.5,583.54 130.5,581.22 138.5,576.16 146.5,571.55 154.5,569.86 162.5,570.23 170.5,570.67 178.5,575.18 186.5,576.81 194.5,578.43 202.5,579.91 210.5,584.75 218.5,588.78 226.5,596.22 234.5,604.73 242.5,611.62 250.5,618.61 258.5,624.56 266.5,628.51 274.5,629.89 282.5,629.39 290.5,629.91 298.5,632.08 306.5,633.22 314.5,633.39 322.5,637.9 330.5,640.79 338.5,639.58 346.5,636.67 354.5,633.01 362.5,629.48 370.5,624.87 378.5,618.14 386.5,611.55 394.5,606.05 402.5,599.97 410.5,591.9 418.5,585.15 426.5,577.89 434.5,572.76 442.5,567.56 450.5,564.91 458.5,566.84 466.5,568.48 474.5,569.2 482.5,572.02 490.5,579.51 498.5,586.76 506.5,588.7 514.5,591.76 522.5,593.29 530.5,594.12 538.5,594.17 546.5,594.97 554.5,595.43 562.5,596.62 570.5,597.85 578.5,599.63 586.5,601.74 594.5,601.76 602.5,601.44 610.5,601.61 618.5,599.09 626.5,596.7 634.5,592.36 642.5,591.04 650.5,589.8 658.5,588.41 666.5,587.03 674.5,585.96 682.5,583.68 690.5,581.76 698.5,579.71 706.5,578.08 714.5,576.29 722.5,575.28 730.5,571.23 738.5,566.88 746.5,561.2 754.5,554.34 762.5,542.78 770.5,530.14 778.5,523.06 786.5,519.71 794.5,515.45 802.5,512.31 810.5,512.43 818.5,512.02 826.5,507.18 834.5,503.31 842.5,499.71 850.5,494 858.5,493.52 866.5,497.91 874.5,507.22 882.5,515.29 890.5,524.66 898.5,526.96 906.5,529.26 914.5,532.17 922.5,532.11 930.5,529.5 938.5,523.35 946.5,517.01 954.5,510.08 962.5,503.85 970.5,497.87 978.5,493.64 986.5,486.52 994.5,479.8 1002.5,473.41 1010.5,468.29 1018.5,461.96 1026.5,455.11 1034.5,449.2 1042.5,448.1 1050.5,446.93 1058.5,447.16 1066.5,451.19 1074.5,450.61 1082.5,450.76 1090.5,450.3 1098.5,448.06 1106.5,443.66 1114.5,438.15 1122.5,432.99 1130.5,428.86 1138.5,421.43 1146.5,414.83 1154.5,408.39 1162.5,401.98 1170.5,398.34 1178.5,392.98 1186.5,387.38 1194.5,382.32 1202.5,378.92 1210.5,375.05 1218.5,373.28 1226.5,369.14 1234.5,368.16 1242.5,366.45 1250.5,361.64 1258.5,357.64 1266.5,351.31 1274.5,343.28 1282.5,339.16 1290.5,332.74 1298.5,325.9 1306.5,319.24 1314.5,315.84 1322.5,314.3 1330.5,314.9 1338.5,315.94 1346.5,319.14 1354.5,319.5 1362.5,320.64 1370.5,322.81 1378.5,327.68 1386.5,329.92 1394.5,333.57 1402.5,333.5 1410.5,322.43 1418.5,312.61 1426.5,301.99 1434.5,290.3 1442.5,282.31 1450.5,274.57 1458.5,269.44 1466.5,267 1474.5,265.38 1482.5,264.74 1490.5,262.67 1498.5,257.74 1506.5,249.8 1514.5,239.53 1522.5,229.4 1530.5,221.35 1538.5,213.12 1546.5,204.93 1554.5,198.98 1562.5,193.61 1570.5,187 1578.5,182.69 1586.5,179.83 1594.5,179.05 1602.5,178.99 1610.5,180.28 1618.5,182.77 1626.5,184.29" fill="none" stroke="#008080" stroke-width="2" stroke-linejoin="round" shape-rendering="crispEdges"/><line x1="2" y1="60.5" x2="2030" y2="60.5" stroke="#000000" stroke-width="1" stroke-dasharray="9 6 3 6" shape-rendering="crispEdges"/><line x1="2" y1="91.5" x2="2030" y2="91.5" stroke="#000000" stroke-width="1" stroke-dasharray="9 6 3 6" shape-rendering="crispEdges"/><line x1="2" y1="122.5" x2="2030" y2="122.5" stroke="#000000" stroke-width="1" stroke-dasharray="9 6 3 6" shape-rendering="crispEdges"/><line x1="2" y1="148.5" x2="2030" y2="148.5" stroke="#000000" stroke-width="1" stroke-dasharray="9 6 3 6" shape-rendering="crispEdges"/><line x1="2" y1="209.5" x2="2030" y2="209.5" stroke="#000000" stroke-width="1" stroke-dasharray="9 6 3 6" shape-rendering="crispEdges"/><line x1="2" y1="238.5" x2="2030" y2="238.5" stroke="#000000" stroke-width="1" stroke-dasharray="9 6 3 6" shape-rendering="crispEdges"/><line x1="2" y1="265.5" x2="2030" y2="265.5" stroke="#000000" stroke-width="1" stroke-dasharray="9 6 3 6" shape-rendering="crispEdges"/><line x1="2" y1="317.5" x2="2030" y2="317.5" stroke="#000000" stroke-width="1" stroke-dasharray="9 6 3 6" shape-rendering="crispEdges"/><line x1="2" y1="355.5" x2="2030" y2="355.5" stroke="#000000" stroke-width="1" stroke-dasharray="9 6 3 6" shape-rendering="crispEdges"/><line x1="2" y1="198.5" x2="2030" y2="198.5" stroke="#778899" stroke-width="1" shape-rendering="crispEdges"/><line x1="2" y1="543" x2="1785.6" y2="110.9" stroke="#000000" stroke-width="1" shape-rendering="crispEdges"/><line x1="714" y1="423.5" x2="1770" y2="39.4" stroke="#000000" stroke-width="1" shape-rendering="crispEdges"/><line x1="658" y1="407.6" x2="1356.6" y2="372.5" stroke="#000000" stroke-width="1" shape-rendering="crispEdges"/><line x1="1377" y1="370.2" x2="1858" y2="346.2" stroke="#000000" stroke-width="1" shape-rendering="crispEdges"/><line x1="898.6" y1="619.4" x2="1874.5" y2="151" stroke="#000000" stroke-width="1" shape-rendering="crispEdges"/><line x1="834" y1="647" x2="1754" y2="140.4" stroke="#000000" stroke-width="1" shape-rendering="crispEdges"/><line x1="874.3" y1="466.4" x2="1690.1" y2="26.6" stroke="#000000" stroke-width="1" shape-rendering="crispEdges"/><line x1="898.6" y1="620.2" x2="1555" y2="122.2" stroke="#a0a0a0" stroke-width="1" stroke-dasharray="2 1.3" shape-rendering="crispEdges"/><line x1="195" y1="740" x2="1465" y2="527" stroke="#000000" stroke-width="2.2" shape-rendering="crispEdges"/><text x="1401" y="106.8" font-size="23px" fill="#000000" textLength="211.5" lengthAdjust="spacingAndGlyphs">45,072 (all-time high)</text>
<g clip-path="url(#cc)">
<polygon points="874,464.8 1690,22.6 1754.3,144.5 938,586.5" fill="#ffe4c4"/>
<rect x="898" y="122" width="1132" height="1" fill="#b0fbdd"/><rect x="898" y="240" width="1132" height="1" fill="#b0fbdd"/><rect x="898" y="313" width="1132" height="1" fill="#b0fbdd"/><rect x="898" y="371" width="1132" height="1" fill="#b0fbdd"/><rect x="898" y="430" width="1132" height="1" fill="#b0fbdd"/><rect x="898" y="514" width="1132" height="1" fill="#b0fbdd"/><rect x="898" y="620" width="1132" height="1" fill="#b0fbdd"/><text x="2010.8" y="119.0" font-size="12.5px" fill="#b0fbdd" textLength="17.5" lengthAdjust="spacingAndGlyphs">0.0</text><text x="1950.8" y="237.0" font-size="12.5px" fill="#b0fbdd" textLength="77.5" lengthAdjust="spacingAndGlyphs">23.643488.74</text><text x="1950.8" y="310.0" font-size="12.5px" fill="#b0fbdd" textLength="77.5" lengthAdjust="spacingAndGlyphs">38.242548.86</text><text x="1950.8" y="368.0" font-size="12.5px" fill="#b0fbdd" textLength="77.5" lengthAdjust="spacingAndGlyphs">50.041789.24</text><text x="1950.8" y="427.0" font-size="12.5px" fill="#b0fbdd" textLength="77.5" lengthAdjust="spacingAndGlyphs">61.841029.61</text><text x="1950.8" y="511.0" font-size="12.5px" fill="#b0fbdd" textLength="77.5" lengthAdjust="spacingAndGlyphs">78.639948.10</text><text x="1997.6" y="617.0" font-size="12.5px" fill="#b0fbdd" textLength="30.7" lengthAdjust="spacingAndGlyphs">100.0</text><g shape-rendering="crispEdges"><rect x="2" y="580" width="1" height="12" fill="#ff1b3b"/><rect x="0" y="582" width="5" height="8" fill="#ff1b3b"/><rect x="10" y="589" width="1" height="41" fill="#ff1b3b"/><rect x="8" y="591" width="5" height="26" fill="#ff1b3b"/><rect x="18" y="597" width="1" height="26" fill="#009b3b"/><rect x="16" y="612" width="5" height="8" fill="#009b3b"/><rect x="26" y="593" width="1" height="32" fill="#009b3b"/><rect x="24" y="603" width="5" height="9" fill="#009b3b"/><rect x="34" y="589" width="1" height="30" fill="#ff1b3b"/><rect x="32" y="604" width="5" height="3" fill="#ff1b3b"/><rect x="42" y="603" width="1" height="25" fill="#009b3b"/><rect x="40" y="603" width="5" height="4" fill="#009b3b"/><rect x="50" y="581" width="1" height="34" fill="#009b3b"/><rect x="48" y="587" width="5" height="17" fill="#009b3b"/><rect x="58" y="571" width="1" height="22" fill="#009b3b"/><rect x="56" y="581" width="5" height="8" fill="#009b3b"/><rect x="66" y="569" width="1" height="42" fill="#ff1b3b"/><rect x="64" y="580" width="5" height="14" fill="#ff1b3b"/><rect x="74" y="587" width="1" height="29" fill="#ff1b3b"/><rect x="72" y="593" width="5" height="18" fill="#ff1b3b"/><rect x="82" y="594" width="1" height="20" fill="#009b3b"/><rect x="80" y="603" width="5" height="9" fill="#009b3b"/><rect x="90" y="577" width="1" height="35" fill="#009b3b"/><rect x="88" y="579" width="5" height="23" fill="#009b3b"/><rect x="98" y="544" width="1" height="44" fill="#009b3b"/><rect x="96" y="546" width="5" height="34" fill="#009b3b"/><rect x="106" y="518" width="1" height="29" fill="#009b3b"/><rect x="104" y="522" width="5" height="23" fill="#009b3b"/><rect x="114" y="521" width="1" height="34" fill="#ff1b3b"/><rect x="112" y="525" width="5" height="30" fill="#ff1b3b"/><rect x="122" y="551" width="1" height="14" fill="#ff1b3b"/><rect x="120" y="553" width="5" height="10" fill="#ff1b3b"/><rect x="130" y="553" width="1" height="13" fill="#009b3b"/><rect x="128" y="559" width="5" height="4" fill="#009b3b"/><rect x="138" y="525" width="1" height="34" fill="#009b3b"/><rect x="136" y="528" width="5" height="29" fill="#009b3b"/><rect x="146" y="520" width="1" height="12" fill="#009b3b"/><rect x="144" y="528" width="5" height="1" fill="#009b3b"/><rect x="154" y="510" width="1" height="49" fill="#ff1b3b"/><rect x="152" y="526" width="5" height="28" fill="#ff1b3b"/><rect x="162" y="550" width="1" height="34" fill="#ff1b3b"/><rect x="160" y="553" width="5" height="21" fill="#ff1b3b"/><rect x="170" y="563" width="1" height="24" fill="#ff1b3b"/><rect x="168" y="572" width="5" height="3" fill="#ff1b3b"/><rect x="178" y="554" width="1" height="68" fill="#ff1b3b"/><rect x="176" y="575" width="5" height="43" fill="#ff1b3b"/><rect x="186" y="583" width="1" height="39" fill="#009b3b"/><rect x="184" y="592" width="5" height="26" fill="#009b3b"/><rect x="194" y="585" width="1" height="18" fill="#ff1b3b"/><rect x="192" y="590" width="5" height="4" fill="#ff1b3b"/><rect x="202" y="587" width="1" height="34" fill="#ff1b3b"/><rect x="200" y="593" width="5" height="1" fill="#ff1b3b"/><rect x="210" y="586" width="1" height="56" fill="#ff1b3b"/><rect x="208" y="594" width="5" height="37" fill="#ff1b3b"/><rect x="218" y="617" width="1" height="33" fill="#009b3b"/><rect x="216" y="627" width="5" height="5" fill="#009b3b"/><rect x="226" y="620" width="1" height="54" fill="#ff1b3b"/><rect x="224" y="627" width="5" height="40" fill="#ff1b3b"/><rect x="234" y="635" width="1" height="56" fill="#ff1b3b"/><rect x="232" y="672" width="5" height="14" fill="#ff1b3b"/><rect x="242" y="661" width="1" height="36" fill="#009b3b"/><rect x="240" y="677" width="5" height="9" fill="#009b3b"/><rect x="250" y="663" width="1" height="32" fill="#ff1b3b"/><rect x="248" y="677" width="5" height="8" fill="#ff1b3b"/><rect x="258" y="657" width="1" height="33" fill="#009b3b"/><rect x="256" y="681" width="5" height="3" fill="#009b3b"/><rect x="266" y="655" width="1" height="69" fill="#009b3b"/><rect x="264" y="666" width="5" height="16" fill="#009b3b"/><rect x="274" y="630" width="1" height="36" fill="#009b3b"/><rect x="272" y="643" width="5" height="19" fill="#009b3b"/><rect x="282" y="620" width="1" height="29" fill="#009b3b"/><rect x="280" y="625" width="5" height="19" fill="#009b3b"/><rect x="290" y="619" width="1" height="22" fill="#ff1b3b"/><rect x="288" y="625" width="5" height="10" fill="#ff1b3b"/><rect x="298" y="630" width="1" height="54" fill="#ff1b3b"/><rect x="296" y="635" width="5" height="18" fill="#ff1b3b"/><rect x="306" y="638" width="1" height="23" fill="#009b3b"/><rect x="304" y="644" width="5" height="7" fill="#009b3b"/><rect x="314" y="634" width="1" height="15" fill="#009b3b"/><rect x="312" y="635" width="5" height="6" fill="#009b3b"/><rect x="322" y="634" width="1" height="50" fill="#ff1b3b"/><rect x="320" y="634" width="5" height="47" fill="#ff1b3b"/><rect x="330" y="637" width="1" height="51" fill="#009b3b"/><rect x="328" y="668" width="5" height="10" fill="#009b3b"/><rect x="338" y="627" width="1" height="48" fill="#009b3b"/><rect x="336" y="628" width="5" height="38" fill="#009b3b"/><rect x="346" y="602" width="1" height="29" fill="#009b3b"/><rect x="344" y="609" width="5" height="18" fill="#009b3b"/><rect x="354" y="596" width="1" height="16" fill="#009b3b"/><rect x="352" y="598" width="5" height="8" fill="#009b3b"/><rect x="362" y="587" width="1" height="13" fill="#009b3b"/><rect x="360" y="596" width="5" height="3" fill="#009b3b"/><rect x="370" y="579" width="1" height="23" fill="#009b3b"/><rect x="368" y="581" width="5" height="14" fill="#009b3b"/><rect x="378" y="552" width="1" height="40" fill="#009b3b"/><rect x="376" y="554" width="5" height="30" fill="#009b3b"/><rect x="386" y="541" width="1" height="16" fill="#009b3b"/><rect x="384" y="549" width="5" height="5" fill="#009b3b"/><rect x="394" y="535" width="1" height="21" fill="#ff1b3b"/><rect x="392" y="548" width="5" height="6" fill="#ff1b3b"/><rect x="402" y="538" width="1" height="26" fill="#009b3b"/><rect x="400" y="542" width="5" height="11" fill="#009b3b"/><rect x="410" y="513" width="1" height="32" fill="#009b3b"/><rect x="408" y="515" width="5" height="29" fill="#009b3b"/><rect x="418" y="505" width="1" height="17" fill="#ff1b3b"/><rect x="416" y="517" width="5" height="4" fill="#ff1b3b"/><rect x="426" y="508" width="1" height="16" fill="#009b3b"/><rect x="424" y="509" width="5" height="10" fill="#009b3b"/><rect x="434" y="502" width="1" height="24" fill="#ff1b3b"/><rect x="432" y="506" width="5" height="18" fill="#ff1b3b"/><rect x="442" y="515" width="1" height="11" fill="#009b3b"/><rect x="440" y="518" width="5" height="6" fill="#009b3b"/><rect x="450" y="515" width="1" height="29" fill="#ff1b3b"/><rect x="448" y="518" width="5" height="22" fill="#ff1b3b"/><rect x="458" y="526" width="1" height="61" fill="#ff1b3b"/><rect x="456" y="538" width="5" height="47" fill="#ff1b3b"/><rect x="466" y="570" width="1" height="17" fill="#ff1b3b"/><rect x="464" y="582" width="5" height="2" fill="#ff1b3b"/><rect x="474" y="576" width="1" height="10" fill="#009b3b"/><rect x="472" y="576" width="5" height="5" fill="#009b3b"/><rect x="482" y="575" width="1" height="35" fill="#ff1b3b"/><rect x="480" y="575" width="5" height="24" fill="#ff1b3b"/><rect x="490" y="598" width="1" height="55" fill="#ff1b3b"/><rect x="488" y="599" width="5" height="52" fill="#ff1b3b"/><rect x="498" y="647" width="1" height="16" fill="#ff1b3b"/><rect x="496" y="650" width="5" height="6" fill="#ff1b3b"/><rect x="506" y="604" width="1" height="57" fill="#009b3b"/><rect x="504" y="607" width="5" height="48" fill="#009b3b"/><rect x="514" y="600" width="1" height="46" fill="#ff1b3b"/><rect x="512" y="606" width="5" height="15" fill="#ff1b3b"/><rect x="522" y="602" width="1" height="36" fill="#009b3b"/><rect x="520" y="608" width="5" height="12" fill="#009b3b"/><rect x="530" y="597" width="1" height="25" fill="#009b3b"/><rect x="528" y="602" width="5" height="6" fill="#009b3b"/><rect x="538" y="585" width="1" height="22" fill="#009b3b"/><rect x="536" y="595" width="5" height="9" fill="#009b3b"/><rect x="546" y="578" width="1" height="36" fill="#ff1b3b"/><rect x="544" y="595" width="5" height="8" fill="#ff1b3b"/><rect x="554" y="596" width="1" height="17" fill="#009b3b"/><rect x="552" y="600" width="5" height="4" fill="#009b3b"/><rect x="562" y="597" width="1" height="33" fill="#ff1b3b"/><rect x="560" y="599" width="5" height="9" fill="#ff1b3b"/><rect x="570" y="574" width="1" height="42" fill="#ff1b3b"/><rect x="568" y="607" width="5" height="3" fill="#ff1b3b"/><rect x="578" y="607" width="1" height="26" fill="#ff1b3b"/><rect x="576" y="609" width="5" height="7" fill="#ff1b3b"/><rect x="586" y="614" width="1" height="29" fill="#ff1b3b"/><rect x="584" y="617" width="5" height="5" fill="#ff1b3b"/><rect x="594" y="597" width="1" height="35" fill="#009b3b"/><rect x="592" y="602" width="5" height="20" fill="#009b3b"/><rect x="602" y="590" width="1" height="18" fill="#009b3b"/><rect x="600" y="598" width="5" height="2" fill="#009b3b"/><rect x="610" y="596" width="1" height="8" fill="#ff1b3b"/><rect x="608" y="602" width="5" height="1" fill="#ff1b3b"/><rect x="618" y="566" width="1" height="39" fill="#009b3b"/><rect x="616" y="575" width="5" height="30" fill="#009b3b"/><rect x="626" y="565" width="1" height="18" fill="#ff1b3b"/><rect x="624" y="573" width="5" height="1" fill="#ff1b3b"/><rect x="634" y="540" width="1" height="42" fill="#009b3b"/><rect x="632" y="551" width="5" height="21" fill="#009b3b"/><rect x="642" y="545" width="1" height="42" fill="#ff1b3b"/><rect x="640" y="550" width="5" height="28" fill="#ff1b3b"/><rect x="650" y="571" width="1" height="21" fill="#009b3b"/><rect x="648" y="578" width="5" height="3" fill="#009b3b"/><rect x="658" y="565" width="1" height="21" fill="#009b3b"/><rect x="656" y="575" width="5" height="5" fill="#009b3b"/><rect x="666" y="552" width="1" height="41" fill="#009b3b"/><rect x="664" y="574" width="5" height="4" fill="#009b3b"/><rect x="674" y="551" width="1" height="33" fill="#ff1b3b"/><rect x="672" y="574" width="5" height="2" fill="#ff1b3b"/><rect x="682" y="559" width="1" height="29" fill="#009b3b"/><rect x="680" y="562" width="5" height="14" fill="#009b3b"/><rect x="690" y="553" width="1" height="15" fill="#ff1b3b"/><rect x="688" y="561" width="5" height="3" fill="#ff1b3b"/><rect x="698" y="552" width="1" height="13" fill="#009b3b"/><rect x="696" y="560" width="5" height="3" fill="#009b3b"/><rect x="706" y="556" width="1" height="20" fill="#ff1b3b"/><rect x="704" y="560" width="5" height="3" fill="#ff1b3b"/><rect x="714" y="533" width="1" height="33" fill="#009b3b"/><rect x="712" y="559" width="5" height="3" fill="#009b3b"/><rect x="722" y="548" width="1" height="26" fill="#ff1b3b"/><rect x="720" y="559" width="5" height="7" fill="#ff1b3b"/><rect x="730" y="528" width="1" height="40" fill="#009b3b"/><rect x="728" y="533" width="5" height="33" fill="#009b3b"/><rect x="738" y="517" width="1" height="22" fill="#009b3b"/><rect x="736" y="526" width="5" height="6" fill="#009b3b"/><rect x="746" y="488" width="1" height="43" fill="#009b3b"/><rect x="744" y="507" width="5" height="17" fill="#009b3b"/><rect x="754" y="480" width="1" height="26" fill="#009b3b"/><rect x="752" y="489" width="5" height="14" fill="#009b3b"/><rect x="762" y="430" width="1" height="66" fill="#009b3b"/><rect x="760" y="433" width="5" height="56" fill="#009b3b"/><rect x="770" y="409" width="1" height="37" fill="#009b3b"/><rect x="768" y="410" width="5" height="23" fill="#009b3b"/><rect x="778" y="402" width="1" height="60" fill="#ff1b3b"/><rect x="776" y="411" width="5" height="45" fill="#ff1b3b"/><rect x="786" y="452" width="1" height="42" fill="#ff1b3b"/><rect x="784" y="454" width="5" height="34" fill="#ff1b3b"/><rect x="794" y="471" width="1" height="21" fill="#009b3b"/><rect x="792" y="475" width="5" height="9" fill="#009b3b"/><rect x="802" y="467" width="1" height="18" fill="#ff1b3b"/><rect x="800" y="475" width="5" height="7" fill="#ff1b3b"/><rect x="810" y="484" width="1" height="40" fill="#ff1b3b"/><rect x="808" y="487" width="5" height="27" fill="#ff1b3b"/><rect x="818" y="474" width="1" height="50" fill="#009b3b"/><rect x="816" y="508" width="5" height="4" fill="#009b3b"/><rect x="826" y="450" width="1" height="60" fill="#009b3b"/><rect x="824" y="461" width="5" height="47" fill="#009b3b"/><rect x="834" y="444" width="1" height="35" fill="#ff1b3b"/><rect x="832" y="457" width="5" height="9" fill="#ff1b3b"/><rect x="842" y="440" width="1" height="34" fill="#ff1b3b"/><rect x="840" y="464" width="5" height="2" fill="#ff1b3b"/><rect x="850" y="414" width="1" height="52" fill="#009b3b"/><rect x="848" y="440" width="5" height="25" fill="#009b3b"/><rect x="858" y="423" width="1" height="78" fill="#ff1b3b"/><rect x="856" y="439" width="5" height="50" fill="#ff1b3b"/><rect x="866" y="486" width="1" height="72" fill="#ff1b3b"/><rect x="864" y="487" width="5" height="53" fill="#ff1b3b"/><rect x="874" y="540" width="1" height="92" fill="#ff1b3b"/><rect x="872" y="549" width="5" height="47" fill="#ff1b3b"/><rect x="882" y="550" width="1" height="65" fill="#009b3b"/><rect x="880" y="592" width="5" height="2" fill="#009b3b"/><rect x="890" y="548" width="1" height="67" fill="#ff1b3b"/><rect x="888" y="593" width="5" height="21" fill="#ff1b3b"/><rect x="898" y="546" width="1" height="73" fill="#009b3b"/><rect x="896" y="549" width="5" height="61" fill="#009b3b"/><rect x="906" y="537" width="1" height="33" fill="#ff1b3b"/><rect x="904" y="550" width="5" height="1" fill="#ff1b3b"/><rect x="914" y="540" width="1" height="28" fill="#ff1b3b"/><rect x="912" y="550" width="5" height="10" fill="#ff1b3b"/><rect x="922" y="525" width="1" height="45" fill="#009b3b"/><rect x="920" y="532" width="5" height="28" fill="#009b3b"/><rect x="930" y="505" width="1" height="31" fill="#009b3b"/><rect x="928" y="505" width="5" height="28" fill="#009b3b"/><rect x="938" y="463" width="1" height="48" fill="#009b3b"/><rect x="936" y="465" width="5" height="41" fill="#009b3b"/><rect x="946" y="453" width="1" height="25" fill="#009b3b"/><rect x="944" y="457" width="5" height="10" fill="#009b3b"/><rect x="954" y="439" width="1" height="24" fill="#009b3b"/><rect x="952" y="444" width="5" height="13" fill="#009b3b"/><rect x="962" y="436" width="1" height="16" fill="#ff1b3b"/><rect x="960" y="443" width="5" height="2" fill="#ff1b3b"/><rect x="970" y="434" width="1" height="19" fill="#009b3b"/><rect x="968" y="441" width="5" height="4" fill="#009b3b"/><rect x="978" y="431" width="1" height="34" fill="#ff1b3b"/><rect x="976" y="440" width="5" height="14" fill="#ff1b3b"/><rect x="986" y="417" width="1" height="36" fill="#009b3b"/><rect x="984" y="419" width="5" height="34" fill="#009b3b"/><rect x="994" y="399" width="1" height="23" fill="#009b3b"/><rect x="992" y="416" width="5" height="4" fill="#009b3b"/><rect x="1002" y="410" width="1" height="16" fill="#009b3b"/><rect x="1000" y="413" width="5" height="5" fill="#009b3b"/><rect x="1010" y="405" width="1" height="41" fill="#ff1b3b"/><rect x="1008" y="412" width="5" height="8" fill="#ff1b3b"/><rect x="1018" y="388" width="1" height="40" fill="#009b3b"/><rect x="1016" y="402" width="5" height="18" fill="#009b3b"/><rect x="1026" y="388" width="1" height="34" fill="#009b3b"/><rect x="1024" y="390" width="5" height="14" fill="#009b3b"/><rect x="1034" y="389" width="1" height="12" fill="#ff1b3b"/><rect x="1032" y="392" width="5" height="1" fill="#ff1b3b"/><rect x="1042" y="391" width="1" height="56" fill="#ff1b3b"/><rect x="1040" y="392" width="5" height="46" fill="#ff1b3b"/><rect x="1050" y="419" width="1" height="31" fill="#009b3b"/><rect x="1048" y="436" width="5" height="1" fill="#009b3b"/><rect x="1058" y="425" width="1" height="45" fill="#ff1b3b"/><rect x="1056" y="437" width="5" height="12" fill="#ff1b3b"/><rect x="1066" y="431" width="1" height="63" fill="#ff1b3b"/><rect x="1064" y="447" width="5" height="43" fill="#ff1b3b"/><rect x="1074" y="432" width="1" height="57" fill="#009b3b"/><rect x="1072" y="445" width="5" height="44" fill="#009b3b"/><rect x="1082" y="438" width="1" height="41" fill="#ff1b3b"/><rect x="1080" y="445" width="5" height="7" fill="#ff1b3b"/><rect x="1090" y="439" width="1" height="71" fill="#009b3b"/><rect x="1088" y="446" width="5" height="8" fill="#009b3b"/><rect x="1098" y="424" width="1" height="35" fill="#009b3b"/><rect x="1096" y="427" width="5" height="18" fill="#009b3b"/><rect x="1106" y="391" width="1" height="34" fill="#009b3b"/><rect x="1104" y="402" width="5" height="23" fill="#009b3b"/><rect x="1114" y="375" width="1" height="31" fill="#009b3b"/><rect x="1112" y="386" width="5" height="20" fill="#009b3b"/><rect x="1122" y="367" width="1" height="30" fill="#009b3b"/><rect x="1120" y="384" width="5" height="3" fill="#009b3b"/><rect x="1130" y="356" width="1" height="42" fill="#ff1b3b"/><rect x="1128" y="385" width="5" height="5" fill="#ff1b3b"/><rect x="1138" y="342" width="1" height="48" fill="#009b3b"/><rect x="1136" y="351" width="5" height="39" fill="#009b3b"/><rect x="1146" y="344" width="1" height="23" fill="#ff1b3b"/><rect x="1144" y="351" width="5" height="1" fill="#ff1b3b"/><rect x="1154" y="342" width="1" height="18" fill="#009b3b"/><rect x="1152" y="347" width="5" height="1" fill="#009b3b"/><rect x="1162" y="333" width="1" height="19" fill="#009b3b"/><rect x="1160" y="341" width="5" height="7" fill="#009b3b"/><rect x="1170" y="331" width="1" height="37" fill="#ff1b3b"/><rect x="1168" y="343" width="5" height="21" fill="#ff1b3b"/><rect x="1178" y="338" width="1" height="28" fill="#009b3b"/><rect x="1176" y="342" width="5" height="22" fill="#009b3b"/><rect x="1186" y="307" width="1" height="39" fill="#009b3b"/><rect x="1184" y="334" width="5" height="8" fill="#009b3b"/><rect x="1194" y="327" width="1" height="35" fill="#009b3b"/><rect x="1192" y="334" width="5" height="1" fill="#009b3b"/><rect x="1202" y="329" width="1" height="32" fill="#ff1b3b"/><rect x="1200" y="334" width="5" height="13" fill="#ff1b3b"/><rect x="1210" y="334" width="1" height="24" fill="#009b3b"/><rect x="1208" y="338" width="5" height="8" fill="#009b3b"/><rect x="1218" y="335" width="1" height="33" fill="#ff1b3b"/><rect x="1216" y="337" width="5" height="19" fill="#ff1b3b"/><rect x="1226" y="328" width="1" height="32" fill="#009b3b"/><rect x="1224" y="330" width="5" height="28" fill="#009b3b"/><rect x="1234" y="325" width="1" height="41" fill="#ff1b3b"/><rect x="1232" y="329" width="5" height="30" fill="#ff1b3b"/><rect x="1242" y="345" width="1" height="26" fill="#009b3b"/><rect x="1240" y="350" width="5" height="9" fill="#009b3b"/><rect x="1250" y="311" width="1" height="48" fill="#009b3b"/><rect x="1248" y="316" width="5" height="35" fill="#009b3b"/><rect x="1258" y="314" width="1" height="19" fill="#ff1b3b"/><rect x="1256" y="316" width="5" height="4" fill="#ff1b3b"/><rect x="1266" y="285" width="1" height="40" fill="#009b3b"/><rect x="1264" y="291" width="5" height="27" fill="#009b3b"/><rect x="1274" y="267" width="1" height="34" fill="#009b3b"/><rect x="1272" y="267" width="5" height="25" fill="#009b3b"/><rect x="1282" y="264" width="1" height="37" fill="#ff1b3b"/><rect x="1280" y="268" width="5" height="32" fill="#ff1b3b"/><rect x="1290" y="270" width="1" height="34" fill="#009b3b"/><rect x="1288" y="272" width="5" height="26" fill="#009b3b"/><rect x="1298" y="255" width="1" height="23" fill="#009b3b"/><rect x="1296" y="261" width="5" height="13" fill="#009b3b"/><rect x="1306" y="252" width="1" height="24" fill="#009b3b"/><rect x="1304" y="256" width="5" height="5" fill="#009b3b"/><rect x="1314" y="253" width="1" height="37" fill="#ff1b3b"/><rect x="1312" y="256" width="5" height="28" fill="#ff1b3b"/><rect x="1322" y="274" width="1" height="27" fill="#ff1b3b"/><rect x="1320" y="282" width="5" height="18" fill="#ff1b3b"/><rect x="1330" y="291" width="1" height="42" fill="#ff1b3b"/><rect x="1328" y="295" width="5" height="26" fill="#ff1b3b"/><rect x="1338" y="315" width="1" height="26" fill="#ff1b3b"/><rect x="1336" y="321" width="5" height="5" fill="#ff1b3b"/><rect x="1346" y="308" width="1" height="44" fill="#ff1b3b"/><rect x="1344" y="324" width="5" height="26" fill="#ff1b3b"/><rect x="1354" y="322" width="1" height="22" fill="#009b3b"/><rect x="1352" y="323" width="5" height="21" fill="#009b3b"/><rect x="1362" y="318" width="1" height="25" fill="#ff1b3b"/><rect x="1360" y="322" width="5" height="9" fill="#ff1b3b"/><rect x="1370" y="320" width="1" height="28" fill="#ff1b3b"/><rect x="1368" y="331" width="5" height="13" fill="#ff1b3b"/><rect x="1378" y="342" width="1" height="37" fill="#ff1b3b"/><rect x="1376" y="344" width="5" height="30" fill="#ff1b3b"/><rect x="1386" y="331" width="1" height="44" fill="#009b3b"/><rect x="1384" y="351" width="5" height="19" fill="#009b3b"/><rect x="1394" y="345" width="1" height="37" fill="#ff1b3b"/><rect x="1392" y="355" width="5" height="13" fill="#ff1b3b"/><rect x="1402" y="332" width="1" height="41" fill="#009b3b"/><rect x="1400" y="333" width="5" height="35" fill="#009b3b"/><rect x="1410" y="216" width="1" height="120" fill="#009b3b"/><rect x="1408" y="217" width="5" height="117" fill="#009b3b"/><rect x="1418" y="212" width="1" height="16" fill="#ff1b3b"/><rect x="1416" y="218" width="5" height="1" fill="#ff1b3b"/><rect x="1426" y="188" width="1" height="36" fill="#009b3b"/><rect x="1424" y="201" width="5" height="16" fill="#009b3b"/><rect x="1434" y="162" width="1" height="39" fill="#009b3b"/><rect x="1432" y="179" width="5" height="21" fill="#009b3b"/><rect x="1442" y="169" width="1" height="39" fill="#ff1b3b"/><rect x="1440" y="180" width="5" height="26" fill="#ff1b3b"/><rect x="1450" y="190" width="1" height="31" fill="#009b3b"/><rect x="1448" y="201" width="5" height="6" fill="#009b3b"/><rect x="1458" y="192" width="1" height="35" fill="#ff1b3b"/><rect x="1456" y="202" width="5" height="19" fill="#ff1b3b"/><rect x="1466" y="219" width="1" height="33" fill="#ff1b3b"/><rect x="1464" y="219" width="5" height="25" fill="#ff1b3b"/><rect x="1474" y="242" width="1" height="18" fill="#ff1b3b"/><rect x="1472" y="245" width="5" height="5" fill="#ff1b3b"/><rect x="1482" y="242" width="1" height="47" fill="#ff1b3b"/><rect x="1480" y="249" width="5" height="10" fill="#ff1b3b"/><rect x="1490" y="242" width="1" height="32" fill="#009b3b"/><rect x="1488" y="243" width="5" height="16" fill="#009b3b"/><rect x="1498" y="199" width="1" height="57" fill="#009b3b"/><rect x="1496" y="211" width="5" height="34" fill="#009b3b"/><rect x="1506" y="174" width="1" height="50" fill="#009b3b"/><rect x="1504" y="174" width="5" height="37" fill="#009b3b"/><rect x="1514" y="138" width="1" height="34" fill="#009b3b"/><rect x="1512" y="142" width="5" height="30" fill="#009b3b"/><rect x="1522" y="131" width="1" height="38" fill="#009b3b"/><rect x="1520" y="133" width="5" height="11" fill="#009b3b"/><rect x="1530" y="125" width="1" height="23" fill="#ff1b3b"/><rect x="1528" y="134" width="5" height="11" fill="#ff1b3b"/><rect x="1538" y="133" width="1" height="13" fill="#009b3b"/><rect x="1536" y="135" width="5" height="11" fill="#009b3b"/><rect x="1546" y="118" width="1" height="24" fill="#009b3b"/><rect x="1544" y="127" width="5" height="9" fill="#009b3b"/><rect x="1554" y="124" width="1" height="23" fill="#ff1b3b"/><rect x="1552" y="130" width="5" height="12" fill="#ff1b3b"/><rect x="1562" y="133" width="1" height="24" fill="#ff1b3b"/><rect x="1560" y="141" width="5" height="1" fill="#ff1b3b"/><rect x="1570" y="118" width="1" height="24" fill="#009b3b"/><rect x="1568" y="124" width="5" height="15" fill="#009b3b"/><rect x="1578" y="119" width="1" height="27" fill="#ff1b3b"/><rect x="1576" y="124" width="5" height="18" fill="#ff1b3b"/><rect x="1586" y="130" width="1" height="26" fill="#ff1b3b"/><rect x="1584" y="140" width="5" height="13" fill="#ff1b3b"/><rect x="1594" y="144" width="1" height="28" fill="#ff1b3b"/><rect x="1592" y="152" width="5" height="20" fill="#ff1b3b"/><rect x="1602" y="164" width="1" height="22" fill="#ff1b3b"/><rect x="1600" y="170" width="5" height="8" fill="#ff1b3b"/><rect x="1610" y="172" width="1" height="20" fill="#ff1b3b"/><rect x="1608" y="178" width="5" height="14" fill="#ff1b3b"/><rect x="1618" y="185" width="1" height="24" fill="#ff1b3b"/><rect x="1616" y="191" width="5" height="15" fill="#ff1b3b"/><rect x="1626" y="197" width="1" height="12" fill="#009b3b"/><rect x="1624" y="199" width="5" height="7" fill="#009b3b"/></g><polyline points="2.5,825.8 10.5,823.73 18.5,821.62 26.5,819.45 34.5,817.33 42.5,815.2 50.5,812.93 58.5,810.62 66.5,808.46 74.5,806.49 82.5,804.47 90.5,802.22 98.5,799.67 106.5,796.91 114.5,794.5 122.5,792.19 130.5,789.87 138.5,787.27 146.5,784.69 154.5,782.39 162.5,780.31 170.5,778.27 178.5,776.67 186.5,774.84 194.5,773.04 202.5,771.26 210.5,769.86 218.5,768.44 226.5,767.43 234.5,766.61 242.5,765.72 250.5,764.92 258.5,764.08 266.5,763.11 274.5,761.91 282.5,760.55 290.5,759.3 298.5,758.24 306.5,757.1 314.5,755.89 322.5,755.14 330.5,754.27 338.5,753.02 346.5,751.58 354.5,750.06 362.5,748.53 370.5,746.86 378.5,744.94 386.5,742.99 394.5,741.11 402.5,739.13 410.5,736.9 418.5,734.75 426.5,732.51 434.5,730.43 442.5,728.32 450.5,726.44 458.5,725.04 466.5,723.64 474.5,722.17 482.5,720.94 490.5,720.24 498.5,719.6 506.5,718.48 514.5,717.51 522.5,716.42 530.5,715.28 538.5,714.08 546.5,712.97 554.5,711.84 562.5,710.81 570.5,709.8 578.5,708.87 586.5,708.01 594.5,706.95 602.5,705.87 610.5,704.85 618.5,703.56 626.5,702.27 634.5,700.76 642.5,699.55 650.5,698.34 658.5,697.11 666.5,695.89 674.5,694.69 682.5,693.37 690.5,692.08 698.5,690.77 706.5,689.49 714.5,688.2 722.5,686.98 730.5,685.44 738.5,683.85 746.5,682.1 754.5,680.18 762.5,677.72 770.5,675.05 778.5,672.87 786.5,671.03 794.5,669.08 802.5,667.22 810.5,665.69 818.5,664.13 826.5,662.11 834.5,660.16 842.5,658.22 850.5,656.05 858.5,654.39 866.5,653.25 874.5,652.67 882.5,652.07 890.5,651.69 898.5,650.66 906.5,649.67 914.5,648.78 922.5,647.61 930.5,646.19 938.5,644.39 946.5,642.52 954.5,640.55 962.5,638.6 970.5,636.63 978.5,634.81 986.5,632.66 994.5,630.5 1002.5,628.34 1010.5,626.26 1018.5,624.03 1026.5,621.7 1034.5,619.43 1042.5,617.62 1050.5,615.81 1058.5,614.15 1066.5,612.91 1074.5,611.24 1082.5,609.66 1090.5,608.03 1098.5,606.23 1106.5,604.19 1114.5,602.02 1122.5,599.85 1130.5,597.76 1138.5,595.3 1146.5,592.88 1154.5,590.44 1162.5,587.96 1170.5,585.72 1178.5,583.3 1186.5,580.82 1194.5,578.37 1202.5,576.06 1210.5,573.7 1218.5,571.53 1226.5,569.13 1234.5,567.04 1242.5,564.88 1250.5,562.4 1258.5,559.99 1266.5,557.31 1274.5,554.42 1282.5,551.89 1290.5,549.1 1298.5,546.24 1306.5,543.35 1314.5,540.76 1322.5,538.36 1330.5,536.2 1338.5,534.1 1346.5,532.27 1354.5,530.19 1362.5,528.21 1370.5,526.37 1378.5,524.85 1386.5,523.12 1394.5,521.58 1402.5,519.71 1410.5,516.7 1418.5,513.74 1426.5,510.63 1434.5,507.33 1442.5,504.33 1450.5,501.32 1458.5,498.52 1466.5,495.99 1474.5,493.54 1482.5,491.2 1490.5,488.74 1498.5,485.97 1506.5,482.87 1514.5,479.48 1522.5,476.03 1530.5,472.74 1538.5,469.38 1546.5,465.97 1554.5,462.75 1562.5,459.57 1570.5,456.23 1578.5,453.1 1586.5,450.11 1594.5,447.34 1602.5,444.66 1610.5,442.15 1618.5,439.81 1626.5,437.41" fill="none" stroke="#8a1bef" stroke-width="2" stroke-linejoin="round" shape-rendering="crispEdges"/><polyline points="2.5,736.1 10.5,733.75 18.5,731.34 26.5,728.8 34.5,726.39 42.5,723.94 50.5,721.23 58.5,718.45 66.5,715.98 74.5,713.9 82.5,711.7 90.5,709.06 98.5,705.84 106.5,702.2 114.5,699.27 122.5,696.57 130.5,693.85 138.5,690.57 146.5,687.34 154.5,684.7 162.5,682.5 170.5,680.37 178.5,679.13 186.5,677.42 194.5,675.76 202.5,674.14 210.5,673.28 218.5,672.37 226.5,672.26 234.5,672.52 242.5,672.61 250.5,672.86 258.5,673.02 266.5,672.88 274.5,672.29 282.5,671.35 290.5,670.62 298.5,670.27 306.5,669.75 314.5,669.06 322.5,669.29 330.5,669.27 338.5,668.46 346.5,667.28 354.5,665.91 362.5,664.53 370.5,662.87 378.5,660.72 386.5,658.51 394.5,656.44 402.5,654.17 410.5,651.42 418.5,648.84 426.5,646.07 434.5,643.65 442.5,641.17 450.5,639.16 458.5,638.09 466.5,637.02 474.5,635.81 482.5,635.08 490.5,635.39 498.5,635.79 506.5,635.22 514.5,634.94 522.5,634.4 530.5,633.76 538.5,632.98 546.5,632.38 554.5,631.74 562.5,631.27 570.5,630.84 578.5,630.55 586.5,630.38 594.5,629.82 602.5,629.19 610.5,628.68 618.5,627.62 626.5,626.56 634.5,625.06 642.5,624.14 650.5,623.23 658.5,622.28 666.5,621.32 674.5,620.42 682.5,619.26 690.5,618.16 698.5,617.01 706.5,615.93 714.5,614.81 722.5,613.84 730.5,612.23 738.5,610.52 746.5,608.47 754.5,606.11 762.5,602.68 770.5,598.87 778.5,596.03 786.5,593.89 794.5,591.54 802.5,589.38 810.5,587.88 818.5,586.3 826.5,583.82 834.5,581.5 842.5,579.2 850.5,576.44 858.5,574.71 866.5,574.01 874.5,574.44 882.5,574.79 890.5,575.56 898.5,575.03 906.5,574.56 914.5,574.26 922.5,573.42 930.5,572.06 938.5,569.94 946.5,567.69 954.5,565.25 962.5,562.86 970.5,560.45 978.5,558.33 986.5,555.57 994.5,552.81 1002.5,550.03 1010.5,547.45 1018.5,544.57 1026.5,541.51 1034.5,538.57 1042.5,536.57 1050.5,534.57 1058.5,532.89 1066.5,532.03 1074.5,530.3 1082.5,528.76 1090.5,527.12 1098.5,525.13 1106.5,522.69 1114.5,519.98 1122.5,517.29 1130.5,514.76 1138.5,511.51 1146.5,508.36 1154.5,505.16 1162.5,501.92 1170.5,499.18 1178.5,496.07 1186.5,492.86 1194.5,489.72 1202.5,486.89 1210.5,483.94 1218.5,481.42 1226.5,478.42 1234.5,476.05 1242.5,473.56 1250.5,470.44 1258.5,467.45 1266.5,463.96 1274.5,460.06 1282.5,456.89 1290.5,453.23 1298.5,449.42 1306.5,445.59 1314.5,442.38 1322.5,439.55 1330.5,437.2 1338.5,434.99 1346.5,433.3 1354.5,431.11 1362.5,429.14 1370.5,427.44 1378.5,426.38 1386.5,424.89 1394.5,423.77 1402.5,421.97 1410.5,417.92 1418.5,413.99 1426.5,409.77 1434.5,405.21 1442.5,401.27 1450.5,397.3 1458.5,393.81 1466.5,390.84 1474.5,388.05 1482.5,385.48 1490.5,382.66 1498.5,379.26 1506.5,375.21 1514.5,370.59 1522.5,365.89 1530.5,361.51 1538.5,357.02 1546.5,352.47 1554.5,348.31 1562.5,344.24 1570.5,339.88 1578.5,335.96 1586.5,332.33 1594.5,329.15 1602.5,326.16 1610.5,323.51 1618.5,321.2 1626.5,318.77" fill="none" stroke="#aa280a" stroke-width="2" stroke-linejoin="round" shape-rendering="crispEdges"/><polyline points="2.5,658.8 10.5,657.18 18.5,655.41 26.5,653.36 34.5,651.53 42.5,649.63 50.5,647.17 58.5,644.58 66.5,642.58 74.5,641.33 82.5,639.83 90.5,637.42 98.5,633.84 106.5,629.45 114.5,626.52 122.5,624.02 130.5,621.48 138.5,617.82 146.5,614.28 154.5,611.91 162.5,610.41 170.5,609.02 178.5,609.37 186.5,608.7 194.5,608.12 202.5,607.56 210.5,608.47 218.5,609.2 226.5,611.46 234.5,614.37 242.5,616.83 250.5,619.5 258.5,621.92 266.5,623.65 274.5,624.41 282.5,624.42 290.5,624.83 298.5,625.92 306.5,626.63 314.5,626.96 322.5,629.07 330.5,630.61 338.5,630.5 346.5,629.66 354.5,628.43 362.5,627.16 370.5,625.35 378.5,622.56 386.5,619.67 394.5,617.09 402.5,614.15 410.5,610.27 418.5,606.77 426.5,602.94 434.5,599.84 442.5,596.64 450.5,594.41 458.5,594.05 466.5,593.65 474.5,592.96 482.5,593.19 490.5,595.45 498.5,597.81 506.5,598.17 514.5,599.06 522.5,599.41 530.5,599.51 538.5,599.32 546.5,599.44 554.5,599.46 562.5,599.79 570.5,600.17 578.5,600.81 586.5,601.64 594.5,601.65 602.5,601.52 610.5,601.59 618.5,600.55 626.5,599.51 634.5,597.61 642.5,596.86 650.5,596.12 658.5,595.3 666.5,594.47 674.5,593.73 682.5,592.49 690.5,591.35 698.5,590.13 706.5,589.05 714.5,587.88 722.5,587.01 730.5,584.89 738.5,582.56 746.5,579.6 754.5,576.06 762.5,570.45 770.5,564.16 778.5,559.91 786.5,557.08 794.5,553.86 802.5,551.07 810.5,549.59 818.5,547.97 826.5,544.57 834.5,541.51 842.5,538.52 850.5,534.65 858.5,532.86 866.5,533.13 874.5,535.58 882.5,537.79 890.5,540.77 898.5,541.08 906.5,541.47 914.5,542.19 922.5,541.77 930.5,540.32 938.5,537.37 946.5,534.2 954.5,530.68 962.5,527.31 970.5,523.92 978.5,521.16 986.5,517.15 994.5,513.18 1002.5,509.24 1010.5,505.73 1018.5,501.65 1026.5,497.27 1034.5,493.19 1042.5,491.01 1050.5,488.84 1058.5,487.3 1066.5,487.38 1074.5,485.72 1082.5,484.41 1090.5,482.9 1098.5,480.7 1106.5,477.61 1114.5,474.01 1122.5,470.48 1130.5,467.3 1138.5,462.74 1146.5,458.4 1154.5,454.04 1162.5,449.61 1170.5,446.25 1178.5,442.16 1186.5,437.92 1194.5,433.86 1202.5,430.44 1210.5,426.82 1218.5,424.06 1226.5,420.37 1234.5,417.96 1242.5,415.3 1250.5,411.4 1258.5,407.81 1266.5,403.23 1274.5,397.89 1282.5,394.05 1290.5,389.25 1298.5,384.22 1306.5,379.19 1314.5,375.44 1322.5,372.47 1330.5,370.43 1338.5,368.68 1346.5,367.93 1354.5,366.17 1362.5,364.81 1370.5,363.97 1378.5,364.36 1386.5,363.84 1394.5,364.02 1402.5,362.79 1410.5,357.09 1418.5,351.69 1426.5,345.78 1434.5,339.25 1442.5,334.04 1450.5,328.82 1458.5,324.58 1466.5,321.42 1474.5,318.62 1482.5,316.26 1490.5,313.39 1498.5,309.37 1506.5,304.08 1514.5,297.72 1522.5,291.27 1530.5,285.53 1538.5,279.62 1546.5,273.64 1554.5,268.5 1562.5,263.56 1570.5,258.09 1578.5,253.53 1586.5,249.58 1594.5,246.52 1602.5,243.85 1610.5,241.83 1618.5,240.45 1626.5,238.81" fill="none" stroke="#ffbe3b" stroke-width="2" stroke-linejoin="round" shape-rendering="crispEdges"/><polyline points="2.5,609 10.5,609.8 18.5,610.03 26.5,609.36 34.5,609.12 42.5,608.53 50.5,606.47 58.5,604.06 66.5,603.06 74.5,603.79 82.5,603.71 90.5,601.32 98.5,596.05 106.5,589 114.5,585.73 122.5,583.54 130.5,581.22 138.5,576.16 146.5,571.55 154.5,569.86 162.5,570.23 170.5,570.67 178.5,575.18 186.5,576.81 194.5,578.43 202.5,579.91 210.5,584.75 218.5,588.78 226.5,596.22 234.5,604.73 242.5,611.62 250.5,618.61 258.5,624.56 266.5,628.51 274.5,629.89 282.5,629.39 290.5,629.91 298.5,632.08 306.5,633.22 314.5,633.39 322.5,637.9 330.5,640.79 338.5,639.58 346.5,636.67 354.5,633.01 362.5,629.48 370.5,624.87 378.5,618.14 386.5,611.55 394.5,606.05 402.5,599.97 410.5,591.9 418.5,585.15 426.5,577.89 434.5,572.76 442.5,567.56 450.5,564.91 458.5,566.84 466.5,568.48 474.5,569.2 482.5,572.02 490.5,579.51 498.5,586.76 506.5,588.7 514.5,591.76 522.5,593.29 530.5,594.12 538.5,594.17 546.5,594.97 554.5,595.43 562.5,596.62 570.5,597.85 578.5,599.63 586.5,601.74 594.5,601.76 602.5,601.44 610.5,601.61 618.5,599.09 626.5,596.7 634.5,592.36 642.5,591.04 650.5,589.8 658.5,588.41 666.5,587.03 674.5,585.96 682.5,583.68 690.5,581.76 698.5,579.71 706.5,578.08 714.5,576.29 722.5,575.28 730.5,571.23 738.5,566.88 746.5,561.2 754.5,554.34 762.5,542.78 770.5,530.14 778.5,523.06 786.5,519.71 794.5,515.45 802.5,512.31 810.5,512.43 818.5,512.02 826.5,507.18 834.5,503.31 842.5,499.71 850.5,494 858.5,493.52 866.5,497.91 874.5,507.22 882.5,515.29 890.5,524.66 898.5,526.96 906.5,529.26 914.5,532.17 922.5,532.11 930.5,529.5 938.5,523.35 946.5,517.01 954.5,510.08 962.5,503.85 970.5,497.87 978.5,493.64 986.5,486.52 994.5,479.8 1002.5,473.41 1010.5,468.29 1018.5,461.96 1026.5,455.11 1034.5,449.2 1042.5,448.1 1050.5,446.93 1058.5,447.16 1066.5,451.19 1074.5,450.61 1082.5,450.76 1090.5,450.3 1098.5,448.06 1106.5,443.66 1114.5,438.15 1122.5,432.99 1130.5,428.86 1138.5,421.43 1146.5,414.83 1154.5,408.39 1162.5,401.98 1170.5,398.34 1178.5,392.98 1186.5,387.38 1194.5,382.32 1202.5,378.92 1210.5,375.05 1218.5,373.28 1226.5,369.14 1234.5,368.16 1242.5,366.45 1250.5,361.64 1258.5,357.64 1266.5,351.31 1274.5,343.28 1282.5,339.16 1290.5,332.74 1298.5,325.9 1306.5,319.24 1314.5,315.84 1322.5,314.3 1330.5,314.9 1338.5,315.94 1346.5,319.14 1354.5,319.5 1362.5,320.64 1370.5,322.81 1378.5,327.68 1386.5,329.92 1394.5,333.57 1402.5,333.5 1410.5,322.43 1418.5,312.61 1426.5,301.99 1434.5,290.3 1442.5,282.31 1450.5,274.57 1458.5,269.44 1466.5,267 1474.5,265.38 1482.5,264.74 1490.5,262.67 1498.5,257.74 1506.5,249.8 1514.5,239.53 1522.5,229.4 1530.5,221.35 1538.5,213.12 1546.5,204.93 1554.5,198.98 1562.5,193.61 1570.5,187 1578.5,182.69 1586.5,179.83 1594.5,179.05 1602.5,178.99 1610.5,180.28 1618.5,182.77 1626.5,184.29" fill="none" stroke="#009bbb" stroke-width="2" stroke-linejoin="round" shape-rendering="crispEdges"/><line x1="2" y1="60.5" x2="2030" y2="60.5" stroke="#001b3b" stroke-width="1" stroke-dasharray="9 6 3 6" shape-rendering="crispEdges"/><line x1="2" y1="91.5" x2="2030" y2="91.5" stroke="#001b3b" stroke-width="1" stroke-dasharray="9 6 3 6" shape-rendering="crispEdges"/><line x1="2" y1="122.5" x2="2030" y2="122.5" stroke="#001b3b" stroke-width="1" stroke-dasharray="9 6 3 6" shape-rendering="crispEdges"/><line x1="2" y1="148.5" x2="2030" y2="148.5" stroke="#001b3b" stroke-width="1" stroke-dasharray="9 6 3 6" shape-rendering="crispEdges"/><line x1="2" y1="209.5" x2="2030" y2="209.5" stroke="#001b3b" stroke-width="1" stroke-dasharray="9 6 3 6" shape-rendering="crispEdges"/><line x1="2" y1="238.5" x2="2030" y2="238.5" stroke="#001b3b" stroke-width="1" stroke-dasharray="9 6 3 6" shape-rendering="crispEdges"/><line x1="2" y1="265.5" x2="2030" y2="265.5" stroke="#001b3b" stroke-width="1" stroke-dasharray="9 6 3 6" shape-rendering="crispEdges"/><line x1="2" y1="317.5" x2="2030" y2="317.5" stroke="#001b3b" stroke-width="1" stroke-dasharray="9 6 3 6" shape-rendering="crispEdges"/><line x1="2" y1="355.5" x2="2030" y2="355.5" stroke="#001b3b" stroke-width="1" stroke-dasharray="9 6 3 6" shape-rendering="crispEdges"/><line x1="2" y1="198.5" x2="2030" y2="198.5" stroke="#7793a2" stroke-width="1" shape-rendering="crispEdges"/><line x1="2" y1="543" x2="1785.6" y2="110.9" stroke="#001b3b" stroke-width="1" shape-rendering="crispEdges"/><line x1="714" y1="423.5" x2="1770" y2="39.4" stroke="#001b3b" stroke-width="1" shape-rendering="crispEdges"/><line x1="658" y1="407.6" x2="1356.6" y2="372.5" stroke="#001b3b" stroke-width="1" shape-rendering="crispEdges"/><line x1="1377" y1="370.2" x2="1858" y2="346.2" stroke="#001b3b" stroke-width="1" shape-rendering="crispEdges"/><line x1="898.6" y1="619.4" x2="1874.5" y2="151" stroke="#001b3b" stroke-width="1" shape-rendering="crispEdges"/><line x1="834" y1="647" x2="1754" y2="140.4" stroke="#001b3b" stroke-width="1" shape-rendering="crispEdges"/><line x1="874.3" y1="466.4" x2="1690.1" y2="26.6" stroke="#001b3b" stroke-width="1" shape-rendering="crispEdges"/><line x1="898.6" y1="620.2" x2="1555" y2="122.2" stroke="#a0bb9b" stroke-width="1" stroke-dasharray="2 1.3" shape-rendering="crispEdges"/><line x1="195" y1="740" x2="1465" y2="527" stroke="#001b3b" stroke-width="2.2" shape-rendering="crispEdges"/><text x="1401" y="106.8" font-size="23px" fill="#001b3b" textLength="211.5" lengthAdjust="spacingAndGlyphs">45,072 (all-time high)</text>
</g>
</g>
<text x="267" y="200.5" font-size="47px" fill="#000" textLength="527" lengthAdjust="spacingAndGlyphs">US 30 index - Daily Chart</text>
<text x="1865.5" y="50.8" font-size="23px" fill="#ff0000" textLength="70.5" lengthAdjust="spacingAndGlyphs">45,825</text>
<text x="1865.5" y="85.9" font-size="23px" fill="#ff0000" textLength="70.5" lengthAdjust="spacingAndGlyphs">45,425</text>
<text x="1817" y="140.8" font-size="23px" fill="#ff0000" textLength="149.8" lengthAdjust="spacingAndGlyphs">44,685-45,000</text>
<text x="1865.5" y="205.1" font-size="23px" fill="#008000" textLength="70.5" lengthAdjust="spacingAndGlyphs">43,885</text>
<text x="1825.5" y="255.7" font-size="23px" fill="#008000" textLength="149.5" lengthAdjust="spacingAndGlyphs">43,165-43,515</text>
<text x="1874" y="305.6" font-size="23px" fill="#008000" textLength="70.5" lengthAdjust="spacingAndGlyphs">42,500</text>
<text x="1874" y="351.9" font-size="23px" fill="#008000" textLength="70.5" lengthAdjust="spacingAndGlyphs">42,000</text>
<text x="489.5" y="570" font-size="23px" fill="#008080" textLength="84" lengthAdjust="spacingAndGlyphs">20-EMA</text>
<text x="674.5" y="618" font-size="23px" fill="#ffa500" textLength="83" lengthAdjust="spacingAndGlyphs">50-EMA</text>
<text x="1123" y="543.1" font-size="23px" fill="#800000" textLength="95.5" lengthAdjust="spacingAndGlyphs">100-EMA</text>
<text x="1186" y="605" font-size="23px" fill="#9400d3" textLength="96.5" lengthAdjust="spacingAndGlyphs">200-EMA</text>
<text x="874" y="654.5" font-size="23px" fill="#000" textLength="70" lengthAdjust="spacingAndGlyphs">38,411</text>
<text x="7" y="15.7" font-size="12px" fill="#000" textLength="241.5" lengthAdjust="spacingAndGlyphs" xml:space="preserve" style="white-space:pre">US30Cash, Daily:  Wall Street 30 Index Cash</text>
<g shape-rendering="crispEdges" fill="none" stroke="#000" stroke-width="1">
<rect x="2.5" y="2.5" width="2028" height="832"/>
<rect x="2.5" y="836.5" width="2028" height="74"/>
<rect x="2.5" y="912.5" width="2028" height="121"/>
<rect x="2.5" y="1035.5" width="2028" height="88"/>
</g>
<g><rect x="2031" y="34" width="4" height="1" fill="#000"/><text x="2035.5" y="39" font-size="12.5px" fill="#000" textLength="52.5" lengthAdjust="spacingAndGlyphs">46156.88</text><rect x="2031" y="66" width="4" height="1" fill="#000"/><text x="2035.5" y="71" font-size="12.5px" fill="#000" textLength="52.5" lengthAdjust="spacingAndGlyphs">45742.38</text><rect x="2031" y="98" width="4" height="1" fill="#000"/><text x="2035.5" y="103" font-size="12.5px" fill="#000" textLength="52.5" lengthAdjust="spacingAndGlyphs">45327.88</text><rect x="2031" y="130" width="4" height="1" fill="#000"/><text x="2035.5" y="135" font-size="12.5px" fill="#000" textLength="52.5" lengthAdjust="spacingAndGlyphs">44913.38</text><rect x="2031" y="162" width="4" height="1" fill="#000"/><text x="2035.5" y="167" font-size="12.5px" fill="#000" textLength="52.5" lengthAdjust="spacingAndGlyphs">44498.88</text><rect x="2031" y="194" width="4" height="1" fill="#000"/><text x="2035.5" y="199" font-size="12.5px" fill="#000" textLength="52.5" lengthAdjust="spacingAndGlyphs">44084.38</text><rect x="2031" y="226" width="4" height="1" fill="#000"/><text x="2035.5" y="231" font-size="12.5px" fill="#000" textLength="52.5" lengthAdjust="spacingAndGlyphs">43669.88</text><rect x="2031" y="258" width="4" height="1" fill="#000"/><text x="2035.5" y="263" font-size="12.5px" fill="#000" textLength="52.5" lengthAdjust="spacingAndGlyphs">43255.38</text><rect x="2031" y="290" width="4" height="1" fill="#000"/><text x="2035.5" y="295" font-size="12.5px" fill="#000" textLength="52.5" lengthAdjust="spacingAndGlyphs">42840.88</text><rect x="2031" y="322" width="4" height="1" fill="#000"/><text x="2035.5" y="327" font-size="12.5px" fill="#000" textLength="52.5" lengthAdjust="spacingAndGlyphs">42426.38</text><rect x="2031" y="354" width="4" height="1" fill="#000"/><text x="2035.5" y="359" font-size="12.5px" fill="#000" textLength="52.5" lengthAdjust="spacingAndGlyphs">42011.88</text><rect x="2031" y="386" width="4" height="1" fill="#000"/><text x="2035.5" y="391" font-size="12.5px" fill="#000" textLength="52.5" lengthAdjust="spacingAndGlyphs">41597.38</text><rect x="2031" y="418" width="4" height="1" fill="#000"/><text x="2035.5" y="423" font-size="12.5px" fill="#000" textLength="52.5" lengthAdjust="spacingAndGlyphs">41182.88</text><rect x="2031" y="450" width="4" height="1" fill="#000"/><text x="2035.5" y="455" font-size="12.5px" fill="#000" textLength="52.5" lengthAdjust="spacingAndGlyphs">40768.38</text><rect x="2031" y="482" width="4" height="1" fill="#000"/><text x="2035.5" y="487" font-size="12.5px" fill="#000" textLength="52.5" lengthAdjust="spacingAndGlyphs">40353.88</text><rect x="2031" y="514" width="4" height="1" fill="#000"/><text x="2035.5" y="519" font-size="12.5px" fill="#000" textLength="52.5" lengthAdjust="spacingAndGlyphs">39939.38</text><rect x="2031" y="546" width="4" height="1" fill="#000"/><text x="2035.5" y="551" font-size="12.5px" fill="#000" textLength="52.5" lengthAdjust="spacingAndGlyphs">39524.88</text><rect x="2031" y="578" width="4" height="1" fill="#000"/><text x="2035.5" y="583" font-size="12.5px" fill="#000" textLength="52.5" lengthAdjust="spacingAndGlyphs">39110.38</text><rect x="2031" y="610" width="4" height="1" fill="#000"/><text x="2035.5" y="615" font-size="12.5px" fill="#000" textLength="52.5" lengthAdjust="spacingAndGlyphs">38695.88</text><rect x="2031" y="642" width="4" height="1" fill="#000"/><text x="2035.5" y="647" font-size="12.5px" fill="#000" textLength="52.5" lengthAdjust="spacingAndGlyphs">38281.38</text><rect x="2031" y="674" width="4" height="1" fill="#000"/><text x="2035.5" y="679" font-size="12.5px" fill="#000" textLength="52.5" lengthAdjust="spacingAndGlyphs">37866.88</text><rect x="2031" y="706" width="4" height="1" fill="#000"/><text x="2035.5" y="711" font-size="12.5px" fill="#000" textLength="52.5" lengthAdjust="spacingAndGlyphs">37452.38</text><rect x="2031" y="738" width="4" height="1" fill="#000"/><text x="2035.5" y="743" font-size="12.5px" fill="#000" textLength="52.5" lengthAdjust="spacingAndGlyphs">37037.88</text><rect x="2031" y="770" width="4" height="1" fill="#000"/><text x="2035.5" y="775" font-size="12.5px" fill="#000" textLength="52.5" lengthAdjust="spacingAndGlyphs">36623.38</text><rect x="2031" y="802" width="4" height="1" fill="#000"/><text x="2035.5" y="807" font-size="12.5px" fill="#000" textLength="52.5" lengthAdjust="spacingAndGlyphs">36208.88</text></g>
<rect x="2033" y="191" width="61" height="14" fill="#778899"/>
<text x="2035.5" y="203" font-size="12.5px" fill="#fff" textLength="52.5" lengthAdjust="spacingAndGlyphs">44029.60</text>
<rect x="2033" y="53" width="61" height="14" fill="#000"/>
<text x="2035.5" y="65" font-size="12.5px" fill="#fff" textLength="52.5" lengthAdjust="spacingAndGlyphs">45825.02</text>
<rect x="2033" y="84" width="61" height="14" fill="#000"/>
<text x="2035.5" y="96" font-size="12.5px" fill="#fff" textLength="52.5" lengthAdjust="spacingAndGlyphs">45424.65</text>
<rect x="2033" y="115" width="61" height="14" fill="#000"/>
<text x="2035.5" y="127" font-size="12.5px" fill="#fff" textLength="52.5" lengthAdjust="spacingAndGlyphs">45014.94</text>
<rect x="2033" y="141" width="61" height="14" fill="#000"/>
<text x="2035.5" y="153" font-size="12.5px" fill="#fff" textLength="52.5" lengthAdjust="spacingAndGlyphs">44684.53</text>
<rect x="2033" y="202" width="61" height="14" fill="#000"/>
<text x="2035.5" y="214" font-size="12.5px" fill="#fff" textLength="52.5" lengthAdjust="spacingAndGlyphs">43884.73</text>
<rect x="2033" y="231" width="61" height="14" fill="#000"/>
<text x="2035.5" y="243" font-size="12.5px" fill="#fff" textLength="52.5" lengthAdjust="spacingAndGlyphs">43514.28</text>
<rect x="2033" y="258" width="61" height="14" fill="#000"/>
<text x="2035.5" y="270" font-size="12.5px" fill="#fff" textLength="52.5" lengthAdjust="spacingAndGlyphs">43164.31</text>
<rect x="2033" y="310" width="61" height="14" fill="#000"/>
<text x="2035.5" y="322" font-size="12.5px" fill="#fff" textLength="52.5" lengthAdjust="spacingAndGlyphs">42488.65</text>
<rect x="2033" y="348" width="61" height="14" fill="#000"/>
<text x="2035.5" y="360" font-size="12.5px" fill="#fff" textLength="52.5" lengthAdjust="spacingAndGlyphs">42000.00</text>
<g clip-path="url(#cs)">
<line x1="2" y1="851.5" x2="2030" y2="851.5" stroke="#c0c0c0" stroke-dasharray="3 3" shape-rendering="crispEdges"/>
<line x1="2" y1="895.5" x2="2030" y2="895.5" stroke="#c0c0c0" stroke-dasharray="3 3" shape-rendering="crispEdges"/>
<polyline points="2.5,873.9 10.5,875.93 18.5,879.77 26.5,883.07 34.5,882.4 42.5,877.27 50.5,869.33 58.5,859.33 66.5,855.33 74.5,858.67 82.5,869.8 90.5,876.3 98.5,869.63 106.5,857.5 114.5,847.67 122.5,851 130.5,859.77 138.5,867.2 146.5,868.37 154.5,866.57 162.5,870.47 170.5,882.03 178.5,894.47 186.5,900.13 194.5,899 202.5,893.07 210.5,889.47 218.5,887.67 226.5,892.13 234.5,896.23 242.5,900.5 250.5,901.3 258.5,900.27 266.5,893.53 274.5,881.8 282.5,865.67 290.5,853.13 298.5,847.8 306.5,850.1 314.5,854.93 322.5,863.03 330.5,871.67 338.5,877.33 346.5,869.87 354.5,855.8 362.5,844.37 370.5,840.53 378.5,840.8 386.5,840.4 394.5,841.93 402.5,844.6 410.5,846.47 418.5,846.6 426.5,845.27 434.5,847.57 442.5,850.6 450.5,859.77 458.5,874.07 466.5,891.7 474.5,902.67 482.5,905.2 490.5,904.47 498.5,904.6 506.5,901.73 514.5,893.27 522.5,879.17 530.5,866.73 538.5,855.33 546.5,851.37 554.5,850.83 562.5,858.13 570.5,865.1 578.5,873.73 586.5,879.97 594.5,882.93 602.5,878.97 610.5,870.07 618.5,861.3 626.5,854 634.5,849.63 642.5,850.77 650.5,857.73 658.5,869.53 666.5,877.97 674.5,883.07 682.5,880.43 690.5,874.33 698.5,864.37 706.5,858.23 714.5,856.43 722.5,862.97 730.5,867.3 738.5,867.57 746.5,859.07 754.5,852.03 762.5,846.13 770.5,842.8 778.5,842.33 786.5,848.77 794.5,862.9 802.5,880.17 810.5,892.67 818.5,899 826.5,895.33 834.5,883.5 842.5,868.33 850.5,858.03 858.5,859.37 866.5,868.87 874.5,882.97 882.5,893.07 890.5,898.53 898.5,896.73 906.5,890.6 914.5,876.7 922.5,861.3 930.5,849.23 938.5,842.87 946.5,840.13 954.5,838.4 962.5,838.93 970.5,839.93 978.5,843.57 986.5,847 994.5,851.5 1002.5,852.03 1010.5,853.57 1018.5,853.23 1026.5,853.43 1034.5,850.67 1042.5,852.67 1050.5,861.13 1058.5,876.73 1066.5,889.37 1074.5,894 1082.5,891.33 1090.5,881.7 1098.5,869.27 1106.5,856 1114.5,847.23 1122.5,843.73 1130.5,844.67 1138.5,846.8 1146.5,849.63 1154.5,848.3 1162.5,847.1 1170.5,848.23 1178.5,853.07 1186.5,861.1 1194.5,865.23 1202.5,870.7 1210.5,872.97 1218.5,879 1226.5,879.07 1234.5,880.37 1242.5,875.53 1250.5,872.67 1258.5,863.9 1266.5,854.8 1274.5,845.97 1282.5,843.8 1290.5,845.4 1298.5,848.9 1306.5,847.63 1314.5,849.13 1322.5,856.8 1330.5,873.67 1338.5,888.77 1346.5,898.2 1354.5,899.27 1362.5,897.93 1370.5,893 1378.5,892.6 1386.5,892.27 1394.5,894.2 1402.5,886.77 1410.5,873.13 1418.5,855.53 1426.5,844.1 1434.5,840.47 1442.5,842.2 1450.5,846.3 1458.5,855.47 1466.5,872.33 1474.5,889.5 1482.5,898.6 1490.5,895.67 1498.5,885.83 1506.5,872.4 1514.5,856.47 1522.5,844.37 1530.5,839.4 1538.5,840.53 1546.5,843.33 1554.5,846.83 1562.5,854.47 1570.5,861.43 1578.5,867.57 1586.5,870.9 1594.5,881.53 1602.5,893.37 1610.5,903.87 1618.5,906.73 1626.5,906.67" fill="none" stroke="#ff0000" stroke-width="1" stroke-dasharray="3 3" shape-rendering="crispEdges"/>
<polyline points="2.5,873.9 10.5,880 18.5,885.4 26.5,883.8 34.5,878 42.5,870 50.5,860 58.5,848 66.5,858 74.5,870 82.5,881.4 90.5,877.5 98.5,850 106.5,845 114.5,848 122.5,860 130.5,871.3 138.5,870.3 146.5,863.5 154.5,865.9 162.5,882 170.5,898.2 178.5,903.2 186.5,899 194.5,894.8 202.5,885.4 210.5,888.2 218.5,889.4 226.5,898.8 234.5,900.5 242.5,902.2 250.5,901.2 258.5,897.4 266.5,882 274.5,866 282.5,849 290.5,844.4 298.5,850 306.5,855.9 314.5,858.9 322.5,874.3 330.5,881.8 338.5,875.9 346.5,851.9 354.5,839.6 362.5,841.6 370.5,840.4 378.5,840.4 386.5,840.4 394.5,845 402.5,848.4 410.5,846 418.5,845.4 426.5,844.4 434.5,852.9 442.5,854.5 450.5,871.9 458.5,895.8 466.5,907.4 474.5,904.8 482.5,903.4 490.5,905.2 498.5,905.2 506.5,894.8 514.5,879.8 522.5,862.9 530.5,857.5 538.5,845.6 546.5,851 554.5,855.9 562.5,867.5 570.5,871.9 578.5,881.8 586.5,886.2 594.5,880.8 602.5,869.9 610.5,859.5 618.5,854.5 626.5,848 634.5,846.4 642.5,857.9 650.5,868.9 658.5,881.8 666.5,883.2 674.5,884.2 682.5,873.9 690.5,864.9 698.5,854.3 706.5,855.5 714.5,859.5 722.5,873.9 730.5,868.5 738.5,860.3 746.5,848.4 754.5,847.4 762.5,842.6 770.5,838.4 778.5,846 786.5,861.9 794.5,880.8 802.5,897.8 810.5,899.4 818.5,899.8 826.5,886.8 834.5,863.9 842.5,854.3 850.5,855.9 858.5,867.9 866.5,882.8 874.5,898.2 882.5,898.2 890.5,899.2 898.5,892.8 906.5,879.8 914.5,857.5 922.5,846.6 930.5,843.6 938.5,838.4 946.5,838.4 954.5,838.4 962.5,840 970.5,841.4 978.5,849.3 986.5,850.3 994.5,854.9 1002.5,850.9 1010.5,854.9 1018.5,853.9 1026.5,851.5 1034.5,846.6 1042.5,859.9 1050.5,876.9 1058.5,893.4 1066.5,897.8 1074.5,890.8 1082.5,885.4 1090.5,868.9 1098.5,853.5 1106.5,845.6 1114.5,842.6 1122.5,843 1130.5,848.4 1138.5,849 1146.5,851.5 1154.5,844.4 1162.5,845.4 1170.5,854.9 1178.5,858.9 1186.5,869.5 1194.5,867.3 1202.5,875.3 1210.5,876.3 1218.5,885.4 1226.5,875.5 1234.5,880.2 1242.5,870.9 1250.5,866.9 1258.5,853.9 1266.5,843.6 1274.5,840.4 1282.5,847.4 1290.5,848.4 1298.5,850.9 1306.5,843.6 1314.5,852.9 1322.5,873.9 1330.5,894.2 1338.5,898.2 1346.5,902.2 1354.5,897.4 1362.5,894.2 1370.5,887.4 1378.5,896.2 1386.5,893.2 1394.5,893.2 1402.5,873.9 1410.5,852.3 1418.5,840.4 1426.5,839.6 1434.5,841.4 1442.5,845.6 1450.5,851.9 1458.5,868.9 1466.5,896.2 1474.5,903.4 1482.5,896.2 1490.5,887.4 1498.5,873.9 1506.5,855.9 1514.5,839.6 1522.5,837.6 1530.5,841 1538.5,843 1546.5,846 1554.5,851.5 1562.5,865.9 1570.5,866.9 1578.5,869.9 1586.5,875.9 1594.5,898.8 1602.5,905.4 1610.5,907.4 1618.5,907.4 1626.5,905.2" fill="none" stroke="#20b2aa" stroke-width="1" shape-rendering="crispEdges"/>
</g>
<rect x="5" y="839" width="131" height="14" fill="#fff"/>
<text x="6" y="851" font-size="12.5px" fill="#000" textLength="128" lengthAdjust="spacingAndGlyphs">Stoch(5,3,3) 7.04 5.24</text>
<text x="1594" y="873.1" font-size="23px" fill="#000" textLength="357" lengthAdjust="spacingAndGlyphs">Stochastics below 20 oversold level</text>
<g clip-path="url(#cr)">
<line x1="2" y1="948.5" x2="2030" y2="948.5" stroke="#5a5a5a" stroke-dasharray="3 3" shape-rendering="crispEdges"/>
<line x1="2" y1="972.5" x2="2030" y2="972.5" stroke="#5a5a5a" stroke-dasharray="3 3" shape-rendering="crispEdges"/>
<line x1="2" y1="997.5" x2="2030" y2="997.5" stroke="#5a5a5a" stroke-dasharray="3 3" shape-rendering="crispEdges"/>
<polyline points="2.5,962.2 10.5,971.8 18.5,970.2 26.5,967.8 34.5,968.4 42.5,967.4 50.5,962.8 58.5,959.2 66.5,965.8 74.5,973.4 82.5,969.8 90.5,961.4 98.5,953.5 106.5,948.5 114.5,960.4 122.5,963.4 130.5,962.2 138.5,955.4 146.5,955.4 154.5,964.4 162.5,970.8 170.5,971.4 178.5,983.4 186.5,975.2 194.5,976.2 202.5,976.2 210.5,985.1 218.5,984.4 226.5,991.7 234.5,995.3 242.5,992.3 250.5,994.1 258.5,993.3 266.5,987.7 274.5,980.4 282.5,973.4 290.5,976.8 298.5,981.2 306.5,978.4 314.5,975.4 322.5,985.7 330.5,982.2 338.5,970.8 346.5,966.8 354.5,964.2 362.5,964.2 370.5,961.4 378.5,955.4 386.5,954.5 394.5,955.4 402.5,953.5 410.5,948.5 418.5,950.5 426.5,948.3 434.5,954.3 442.5,953.3 450.5,961.8 458.5,975.2 466.5,974.2 474.5,973.2 482.5,978.8 490.5,990.3 498.5,991.3 506.5,977.4 514.5,979.4 522.5,976.4 530.5,975.2 538.5,973.2 546.5,975.2 554.5,974.2 562.5,976.2 570.5,977.4 578.5,979.2 586.5,980.4 594.5,973.8 602.5,972.2 610.5,973.4 618.5,964.2 626.5,964.2 634.5,957.4 642.5,968.2 650.5,968.2 658.5,967.4 666.5,967.4 674.5,967.4 682.5,962.4 690.5,963.4 698.5,962.2 706.5,963.4 714.5,962.4 722.5,965.2 730.5,953.5 738.5,950.5 746.5,946.5 754.5,941.5 762.5,933.3 770.5,931.3 778.5,950.9 786.5,961.4 794.5,958.4 802.5,960.2 810.5,970.2 818.5,968.2 826.5,958.2 834.5,960.2 842.5,960.2 850.5,955.4 858.5,969.4 866.5,979.4 874.5,988.3 882.5,988.3 890.5,991.3 898.5,976.4 906.5,977.4 914.5,978.4 922.5,972.4 930.5,968.2 938.5,961.4 946.5,960.2 954.5,958.4 962.5,958.2 970.5,957.4 978.5,961.2 986.5,955.4 994.5,955.4 1002.5,954.3 1010.5,956.2 1018.5,953.5 1026.5,951.5 1034.5,952.3 1042.5,966.4 1050.5,966.4 1058.5,969.4 1066.5,980.2 1074.5,969.4 1082.5,971.4 1090.5,969.4 1098.5,965.4 1106.5,961.2 1114.5,957.4 1122.5,957.4 1130.5,958.4 1138.5,951.5 1146.5,951.5 1154.5,950.5 1162.5,948.9 1170.5,958.2 1178.5,954.5 1186.5,952.5 1194.5,952.5 1202.5,957.2 1210.5,955.4 1218.5,962.2 1226.5,956.4 1234.5,966.4 1242.5,964.2 1250.5,956.4 1258.5,957.4 1266.5,953.3 1274.5,948.5 1282.5,957.8 1290.5,954.3 1298.5,952.5 1306.5,951.5 1314.5,959.8 1322.5,964.2 1330.5,970.2 1338.5,972.4 1346.5,978.4 1354.5,971.4 1362.5,973.4 1370.5,976.4 1378.5,983.4 1386.5,977.4 1394.5,981.4 1402.5,969.8 1410.5,953.5 1418.5,953.5 1426.5,951.5 1434.5,948.5 1442.5,955.4 1450.5,954.5 1458.5,959.8 1466.5,965.2 1474.5,966.2 1482.5,968.4 1490.5,965.4 1498.5,960.2 1506.5,955.8 1514.5,949.9 1522.5,948.3 1530.5,951.5 1538.5,950.5 1546.5,949.3 1554.5,954.3 1562.5,954.5 1570.5,951.5 1578.5,957.2 1586.5,960.4 1594.5,966.2 1602.5,967.8 1610.5,972.2 1618.5,976.4 1626.5,973.4" fill="none" stroke="#1e90ff" stroke-width="1" shape-rendering="crispEdges"/>
</g>
<rect x="5" y="915" width="80" height="14" fill="#fff"/>
<text x="6" y="927.7" font-size="12.5px" fill="#000" textLength="77.5" lengthAdjust="spacingAndGlyphs">RSI(14) 49.37</text>
<text x="1658.5" y="1003.5" font-size="23px" fill="#000" textLength="276" lengthAdjust="spacingAndGlyphs">RSI around 50 neutral mark</text>
<g clip-path="url(#cd)">
<g shape-rendering="crispEdges"><rect x="2" y="1071" width="1" height="19" fill="#c0c0c0"/><rect x="10" y="1072" width="1" height="18" fill="#c0c0c0"/><rect x="18" y="1074" width="1" height="16" fill="#c0c0c0"/><rect x="26" y="1075" width="1" height="15" fill="#c0c0c0"/><rect x="34" y="1077" width="1" height="13" fill="#c0c0c0"/><rect x="42" y="1078" width="1" height="12" fill="#c0c0c0"/><rect x="50" y="1077" width="1" height="13" fill="#c0c0c0"/><rect x="58" y="1077" width="1" height="13" fill="#c0c0c0"/><rect x="66" y="1077" width="1" height="13" fill="#c0c0c0"/><rect x="74" y="1079" width="1" height="11" fill="#c0c0c0"/><rect x="82" y="1080" width="1" height="10" fill="#c0c0c0"/><rect x="90" y="1079" width="1" height="11" fill="#c0c0c0"/><rect x="98" y="1076" width="1" height="14" fill="#c0c0c0"/><rect x="106" y="1071" width="1" height="19" fill="#c0c0c0"/><rect x="114" y="1070" width="1" height="20" fill="#c0c0c0"/><rect x="122" y="1071" width="1" height="19" fill="#c0c0c0"/><rect x="130" y="1071" width="1" height="19" fill="#c0c0c0"/><rect x="138" y="1069" width="1" height="21" fill="#c0c0c0"/><rect x="146" y="1067" width="1" height="23" fill="#c0c0c0"/><rect x="154" y="1069" width="1" height="21" fill="#c0c0c0"/><rect x="162" y="1071" width="1" height="19" fill="#c0c0c0"/><rect x="170" y="1074" width="1" height="16" fill="#c0c0c0"/><rect x="178" y="1080" width="1" height="10" fill="#c0c0c0"/><rect x="186" y="1082" width="1" height="8" fill="#c0c0c0"/><rect x="194" y="1084" width="1" height="6" fill="#c0c0c0"/><rect x="202" y="1086" width="1" height="4" fill="#c0c0c0"/><rect x="210" y="1091" width="1" height="0" fill="#c0c0c0"/><rect x="218" y="1091" width="1" height="4" fill="#c0c0c0"/><rect x="226" y="1091" width="1" height="10" fill="#c0c0c0"/><rect x="234" y="1091" width="1" height="16" fill="#c0c0c0"/><rect x="242" y="1091" width="1" height="20" fill="#c0c0c0"/><rect x="250" y="1091" width="1" height="23" fill="#c0c0c0"/><rect x="258" y="1091" width="1" height="25" fill="#c0c0c0"/><rect x="266" y="1091" width="1" height="25" fill="#c0c0c0"/><rect x="274" y="1091" width="1" height="23" fill="#c0c0c0"/><rect x="282" y="1091" width="1" height="20" fill="#c0c0c0"/><rect x="290" y="1091" width="1" height="17" fill="#c0c0c0"/><rect x="298" y="1091" width="1" height="17" fill="#c0c0c0"/><rect x="306" y="1091" width="1" height="16" fill="#c0c0c0"/><rect x="314" y="1091" width="1" height="9" fill="#c0c0c0"/><rect x="322" y="1091" width="1" height="16" fill="#c0c0c0"/><rect x="330" y="1091" width="1" height="17" fill="#c0c0c0"/><rect x="338" y="1091" width="1" height="14" fill="#c0c0c0"/><rect x="346" y="1091" width="1" height="9" fill="#c0c0c0"/><rect x="354" y="1091" width="1" height="5" fill="#c0c0c0"/><rect x="362" y="1091" width="1" height="1" fill="#c0c0c0"/><rect x="370" y="1087" width="1" height="3" fill="#c0c0c0"/><rect x="378" y="1082" width="1" height="8" fill="#c0c0c0"/><rect x="386" y="1077" width="1" height="13" fill="#c0c0c0"/><rect x="394" y="1074" width="1" height="16" fill="#c0c0c0"/><rect x="402" y="1071" width="1" height="19" fill="#c0c0c0"/><rect x="410" y="1066" width="1" height="24" fill="#c0c0c0"/><rect x="418" y="1063" width="1" height="27" fill="#c0c0c0"/><rect x="426" y="1060" width="1" height="30" fill="#c0c0c0"/><rect x="434" y="1059" width="1" height="31" fill="#c0c0c0"/><rect x="442" y="1059" width="1" height="31" fill="#c0c0c0"/><rect x="450" y="1060" width="1" height="30" fill="#c0c0c0"/><rect x="458" y="1066" width="1" height="24" fill="#c0c0c0"/><rect x="466" y="1070" width="1" height="20" fill="#c0c0c0"/><rect x="474" y="1073" width="1" height="17" fill="#c0c0c0"/><rect x="482" y="1078" width="1" height="12" fill="#c0c0c0"/><rect x="490" y="1086" width="1" height="4" fill="#c0c0c0"/><rect x="498" y="1091" width="1" height="2" fill="#c0c0c0"/><rect x="506" y="1091" width="1" height="4" fill="#c0c0c0"/><rect x="514" y="1091" width="1" height="6" fill="#c0c0c0"/><rect x="522" y="1091" width="1" height="6" fill="#c0c0c0"/><rect x="530" y="1091" width="1" height="6" fill="#c0c0c0"/><rect x="538" y="1091" width="1" height="5" fill="#c0c0c0"/><rect x="546" y="1091" width="1" height="4" fill="#c0c0c0"/><rect x="554" y="1091" width="1" height="4" fill="#c0c0c0"/><rect x="562" y="1091" width="1" height="4" fill="#c0c0c0"/><rect x="570" y="1091" width="1" height="4" fill="#c0c0c0"/><rect x="578" y="1091" width="1" height="5" fill="#c0c0c0"/><rect x="586" y="1091" width="1" height="7" fill="#c0c0c0"/><rect x="594" y="1091" width="1" height="6" fill="#c0c0c0"/><rect x="602" y="1091" width="1" height="5" fill="#c0c0c0"/><rect x="610" y="1091" width="1" height="4" fill="#c0c0c0"/><rect x="618" y="1091" width="1" height="1" fill="#c0c0c0"/><rect x="626" y="1089" width="1" height="1" fill="#c0c0c0"/><rect x="634" y="1085" width="1" height="5" fill="#c0c0c0"/><rect x="642" y="1085" width="1" height="5" fill="#c0c0c0"/><rect x="650" y="1084" width="1" height="6" fill="#c0c0c0"/><rect x="658" y="1084" width="1" height="6" fill="#c0c0c0"/><rect x="666" y="1083" width="1" height="7" fill="#c0c0c0"/><rect x="674" y="1083" width="1" height="7" fill="#c0c0c0"/><rect x="682" y="1082" width="1" height="8" fill="#c0c0c0"/><rect x="690" y="1081" width="1" height="9" fill="#c0c0c0"/><rect x="698" y="1081" width="1" height="9" fill="#c0c0c0"/><rect x="706" y="1080" width="1" height="10" fill="#c0c0c0"/><rect x="714" y="1080" width="1" height="10" fill="#c0c0c0"/><rect x="722" y="1080" width="1" height="10" fill="#c0c0c0"/><rect x="730" y="1078" width="1" height="12" fill="#c0c0c0"/><rect x="738" y="1075" width="1" height="15" fill="#c0c0c0"/><rect x="746" y="1072" width="1" height="18" fill="#c0c0c0"/><rect x="754" y="1068" width="1" height="22" fill="#c0c0c0"/><rect x="762" y="1061" width="1" height="29" fill="#c0c0c0"/><rect x="770" y="1053" width="1" height="37" fill="#c0c0c0"/><rect x="778" y="1052" width="1" height="38" fill="#c0c0c0"/><rect x="786" y="1054" width="1" height="36" fill="#c0c0c0"/><rect x="794" y="1054" width="1" height="36" fill="#c0c0c0"/><rect x="802" y="1056" width="1" height="34" fill="#c0c0c0"/><rect x="810" y="1060" width="1" height="30" fill="#c0c0c0"/><rect x="818" y="1064" width="1" height="26" fill="#c0c0c0"/><rect x="826" y="1062" width="1" height="28" fill="#c0c0c0"/><rect x="834" y="1062" width="1" height="28" fill="#c0c0c0"/><rect x="842" y="1062" width="1" height="28" fill="#c0c0c0"/><rect x="850" y="1061" width="1" height="29" fill="#c0c0c0"/><rect x="858" y="1064" width="1" height="26" fill="#c0c0c0"/><rect x="866" y="1071" width="1" height="19" fill="#c0c0c0"/><rect x="874" y="1081" width="1" height="9" fill="#c0c0c0"/><rect x="882" y="1089" width="1" height="1" fill="#c0c0c0"/><rect x="890" y="1091" width="1" height="7" fill="#c0c0c0"/><rect x="898" y="1091" width="1" height="8" fill="#c0c0c0"/><rect x="906" y="1091" width="1" height="9" fill="#c0c0c0"/><rect x="914" y="1091" width="1" height="10" fill="#c0c0c0"/><rect x="922" y="1091" width="1" height="8" fill="#c0c0c0"/><rect x="930" y="1091" width="1" height="5" fill="#c0c0c0"/><rect x="938" y="1088" width="1" height="2" fill="#c0c0c0"/><rect x="946" y="1083" width="1" height="7" fill="#c0c0c0"/><rect x="954" y="1078" width="1" height="12" fill="#c0c0c0"/><rect x="962" y="1074" width="1" height="16" fill="#c0c0c0"/><rect x="970" y="1070" width="1" height="20" fill="#c0c0c0"/><rect x="978" y="1069" width="1" height="21" fill="#c0c0c0"/><rect x="986" y="1065" width="1" height="25" fill="#c0c0c0"/><rect x="994" y="1063" width="1" height="27" fill="#c0c0c0"/><rect x="1002" y="1060" width="1" height="30" fill="#c0c0c0"/><rect x="1010" y="1059" width="1" height="31" fill="#c0c0c0"/><rect x="1018" y="1058" width="1" height="32" fill="#c0c0c0"/><rect x="1026" y="1056" width="1" height="34" fill="#c0c0c0"/><rect x="1034" y="1055" width="1" height="35" fill="#c0c0c0"/><rect x="1042" y="1058" width="1" height="32" fill="#c0c0c0"/><rect x="1050" y="1061" width="1" height="29" fill="#c0c0c0"/><rect x="1058" y="1065" width="1" height="25" fill="#c0c0c0"/><rect x="1066" y="1071" width="1" height="19" fill="#c0c0c0"/><rect x="1074" y="1073" width="1" height="17" fill="#c0c0c0"/><rect x="1082" y="1075" width="1" height="15" fill="#c0c0c0"/><rect x="1090" y="1076" width="1" height="14" fill="#c0c0c0"/><rect x="1098" y="1076" width="1" height="14" fill="#c0c0c0"/><rect x="1106" y="1073" width="1" height="17" fill="#c0c0c0"/><rect x="1114" y="1071" width="1" height="19" fill="#c0c0c0"/><rect x="1122" y="1068" width="1" height="22" fill="#c0c0c0"/><rect x="1130" y="1067" width="1" height="23" fill="#c0c0c0"/><rect x="1138" y="1063" width="1" height="27" fill="#c0c0c0"/><rect x="1146" y="1061" width="1" height="29" fill="#c0c0c0"/><rect x="1154" y="1058" width="1" height="32" fill="#c0c0c0"/><rect x="1162" y="1057" width="1" height="33" fill="#c0c0c0"/><rect x="1170" y="1057" width="1" height="33" fill="#c0c0c0"/><rect x="1178" y="1057" width="1" height="33" fill="#c0c0c0"/><rect x="1186" y="1056" width="1" height="34" fill="#c0c0c0"/><rect x="1194" y="1055" width="1" height="35" fill="#c0c0c0"/><rect x="1202" y="1058" width="1" height="32" fill="#c0c0c0"/><rect x="1210" y="1058" width="1" height="32" fill="#c0c0c0"/><rect x="1218" y="1060" width="1" height="30" fill="#c0c0c0"/><rect x="1226" y="1060" width="1" height="30" fill="#c0c0c0"/><rect x="1234" y="1062" width="1" height="28" fill="#c0c0c0"/><rect x="1242" y="1064" width="1" height="26" fill="#c0c0c0"/><rect x="1250" y="1063" width="1" height="27" fill="#c0c0c0"/><rect x="1258" y="1062" width="1" height="28" fill="#c0c0c0"/><rect x="1266" y="1061" width="1" height="29" fill="#c0c0c0"/><rect x="1274" y="1057" width="1" height="33" fill="#c0c0c0"/><rect x="1282" y="1057" width="1" height="33" fill="#c0c0c0"/><rect x="1290" y="1055" width="1" height="35" fill="#c0c0c0"/><rect x="1298" y="1052" width="1" height="38" fill="#c0c0c0"/><rect x="1306" y="1052" width="1" height="38" fill="#c0c0c0"/><rect x="1314" y="1053" width="1" height="37" fill="#c0c0c0"/><rect x="1322" y="1057" width="1" height="33" fill="#c0c0c0"/><rect x="1330" y="1061" width="1" height="29" fill="#c0c0c0"/><rect x="1338" y="1065" width="1" height="25" fill="#c0c0c0"/><rect x="1346" y="1071" width="1" height="19" fill="#c0c0c0"/><rect x="1354" y="1073" width="1" height="17" fill="#c0c0c0"/><rect x="1362" y="1076" width="1" height="14" fill="#c0c0c0"/><rect x="1370" y="1079" width="1" height="11" fill="#c0c0c0"/><rect x="1378" y="1085" width="1" height="5" fill="#c0c0c0"/><rect x="1386" y="1087" width="1" height="3" fill="#c0c0c0"/><rect x="1410" y="1080" width="1" height="10" fill="#c0c0c0"/><rect x="1418" y="1072" width="1" height="18" fill="#c0c0c0"/><rect x="1426" y="1065" width="1" height="25" fill="#c0c0c0"/><rect x="1434" y="1058" width="1" height="32" fill="#c0c0c0"/><rect x="1442" y="1054" width="1" height="36" fill="#c0c0c0"/><rect x="1450" y="1052" width="1" height="38" fill="#c0c0c0"/><rect x="1458" y="1052" width="1" height="38" fill="#c0c0c0"/><rect x="1466" y="1055" width="1" height="35" fill="#c0c0c0"/><rect x="1474" y="1058" width="1" height="32" fill="#c0c0c0"/><rect x="1482" y="1061" width="1" height="29" fill="#c0c0c0"/><rect x="1490" y="1063" width="1" height="27" fill="#c0c0c0"/><rect x="1498" y="1061" width="1" height="29" fill="#c0c0c0"/><rect x="1506" y="1058" width="1" height="32" fill="#c0c0c0"/><rect x="1514" y="1053" width="1" height="37" fill="#c0c0c0"/><rect x="1522" y="1048" width="1" height="42" fill="#c0c0c0"/><rect x="1530" y="1046" width="1" height="44" fill="#c0c0c0"/><rect x="1538" y="1044" width="1" height="46" fill="#c0c0c0"/><rect x="1546" y="1043" width="1" height="47" fill="#c0c0c0"/><rect x="1554" y="1043" width="1" height="47" fill="#c0c0c0"/><rect x="1562" y="1044" width="1" height="46" fill="#c0c0c0"/><rect x="1570" y="1045" width="1" height="45" fill="#c0c0c0"/><rect x="1578" y="1046" width="1" height="44" fill="#c0c0c0"/><rect x="1586" y="1048" width="1" height="42" fill="#c0c0c0"/><rect x="1594" y="1053" width="1" height="37" fill="#c0c0c0"/><rect x="1602" y="1057" width="1" height="33" fill="#c0c0c0"/><rect x="1610" y="1062" width="1" height="28" fill="#c0c0c0"/><rect x="1618" y="1067" width="1" height="23" fill="#c0c0c0"/><rect x="1626" y="1071" width="1" height="19" fill="#c0c0c0"/></g>
<polyline points="2.5,1067.27 10.5,1067.89 18.5,1068.69 26.5,1069.62 34.5,1070.76 42.5,1072.02 50.5,1073.16 58.5,1074.29 66.5,1075.42 74.5,1076.31 82.5,1077.13 90.5,1077.69 98.5,1077.8 106.5,1077.16 114.5,1076.23 122.5,1075.59 130.5,1074.94 138.5,1074.06 146.5,1072.71 154.5,1071.51 162.5,1070.64 170.5,1070.4 178.5,1071.4 186.5,1072.78 194.5,1074.2 202.5,1075.86 210.5,1078.31 218.5,1081.41 226.5,1084.92 234.5,1088.87 242.5,1092.97 250.5,1096.68 258.5,1100.37 266.5,1103.87 274.5,1106.96 282.5,1109.12 290.5,1110.56 298.5,1111.34 306.5,1111.4 314.5,1110.2 322.5,1109.43 330.5,1108.57 338.5,1107.38 346.5,1105.81 354.5,1104.21 362.5,1102.44 370.5,1100.12 378.5,1097.3 386.5,1094.72 394.5,1091.08 402.5,1086.99 410.5,1082.67 418.5,1078.57 426.5,1074.53 434.5,1070.88 442.5,1067.78 450.5,1065.34 458.5,1064.12 466.5,1063.68 474.5,1063.9 482.5,1065.23 490.5,1067.82 498.5,1071.48 506.5,1075.47 514.5,1079.68 522.5,1083.78 530.5,1087.21 538.5,1090.09 546.5,1092.59 554.5,1094.47 562.5,1095.42 570.5,1095.71 578.5,1095.87 586.5,1095.98 594.5,1095.98 602.5,1095.87 610.5,1095.82 618.5,1095.42 626.5,1094.82 634.5,1093.71 642.5,1092.53 650.5,1091.16 658.5,1089.6 666.5,1088.04 674.5,1086.6 682.5,1085.09 690.5,1083.87 698.5,1082.91 706.5,1082.36 714.5,1081.8 722.5,1081.36 730.5,1080.7 738.5,1079.82 746.5,1078.61 754.5,1077.07 762.5,1074.86 770.5,1071.76 778.5,1068.66 786.5,1065.78 794.5,1062.9 802.5,1060.46 810.5,1058.79 818.5,1057.9 826.5,1057.23 834.5,1057.34 842.5,1058.34 850.5,1059.34 858.5,1060.46 866.5,1062.34 874.5,1065.11 882.5,1068.32 890.5,1072.09 898.5,1076.19 906.5,1080.4 914.5,1084.72 922.5,1088.93 930.5,1092.48 938.5,1094.36 946.5,1094.58 954.5,1093.37 962.5,1090.71 970.5,1087.5 978.5,1084.07 986.5,1080.08 994.5,1076.09 1002.5,1072.1 1010.5,1068.89 1018.5,1066.12 1026.5,1063.68 1034.5,1061.57 1042.5,1060.23 1050.5,1059.34 1058.5,1059.34 1066.5,1060.23 1074.5,1061.68 1082.5,1063.46 1090.5,1065.46 1098.5,1067.68 1106.5,1069.68 1114.5,1071.12 1122.5,1071.9 1130.5,1072.12 1138.5,1071.23 1146.5,1069.9 1154.5,1068 1162.5,1065.9 1170.5,1063.8 1178.5,1062.03 1186.5,1060.36 1194.5,1058.91 1202.5,1057.89 1210.5,1057.31 1218.5,1057.17 1226.5,1057.37 1234.5,1057.92 1242.5,1058.67 1250.5,1059.33 1258.5,1060.02 1266.5,1060.66 1274.5,1060.58 1282.5,1060.5 1290.5,1059.98 1298.5,1059.19 1306.5,1058.06 1314.5,1056.87 1322.5,1056.2 1330.5,1056.12 1338.5,1056.59 1346.5,1058.12 1354.5,1059.92 1362.5,1062.29 1370.5,1065.24 1378.5,1068.93 1386.5,1072.76 1394.5,1076.42 1402.5,1079.61 1410.5,1081.33 1418.5,1081.47 1426.5,1080.53 1434.5,1078.48 1442.5,1075.71 1450.5,1072.02 1458.5,1068.07 1466.5,1064.17 1474.5,1060.58 1482.5,1058.41 1490.5,1057.41 1498.5,1056.97 1506.5,1056.97 1514.5,1056.83 1522.5,1056.43 1530.5,1055.82 1538.5,1054.61 1546.5,1052.98 1554.5,1051 1562.5,1048.89 1570.5,1047.1 1578.5,1045.79 1586.5,1045.26 1594.5,1045.79 1602.5,1046.98 1610.5,1048.98 1618.5,1051.67 1626.5,1054.76" fill="none" stroke="#ff0000" stroke-width="1" stroke-dasharray="3 3" shape-rendering="crispEdges"/>
</g>
<rect x="5" y="1039" width="187" height="14" fill="#fff"/>
<text x="6" y="1050.9" font-size="12.5px" fill="#000" textLength="185" lengthAdjust="spacingAndGlyphs">MACD(12,26,9) 223.834 426.602</text>
<text x="1609.5" y="1105.2" font-size="23px" fill="#ff0000" textLength="370" lengthAdjust="spacingAndGlyphs">MACD weakens below red signal line</text>
<rect x="2031" y="837" width="4" height="1" fill="#000"/>
<text x="2035.5" y="847.5" font-size="12.5px" fill="#000" textLength="39" lengthAdjust="spacingAndGlyphs">100.00</text>
<rect x="2031" y="851" width="4" height="1" fill="#000"/>
<text x="2035.5" y="855.7" font-size="12.5px" fill="#000" textLength="32.5" lengthAdjust="spacingAndGlyphs">80.00</text>
<rect x="2031" y="895" width="4" height="1" fill="#000"/>
<text x="2035.5" y="899.3" font-size="12.5px" fill="#000" textLength="32.5" lengthAdjust="spacingAndGlyphs">20.00</text>
<rect x="2031" y="909" width="4" height="1" fill="#000"/>
<text x="2035.5" y="907.6" font-size="12.5px" fill="#000" textLength="25.5" lengthAdjust="spacingAndGlyphs">0.00</text>
<rect x="2031" y="913" width="4" height="1" fill="#000"/>
<text x="2035.5" y="924" font-size="12.5px" fill="#000" textLength="39" lengthAdjust="spacingAndGlyphs">100.00</text>
<rect x="2031" y="948" width="4" height="1" fill="#000"/>
<text x="2035.5" y="953" font-size="12.5px" fill="#000" textLength="32.5" lengthAdjust="spacingAndGlyphs">70.00</text>
<rect x="2031" y="972" width="4" height="1" fill="#000"/>
<text x="2035.5" y="976.5" font-size="12.5px" fill="#000" textLength="32.5" lengthAdjust="spacingAndGlyphs">50.00</text>
<rect x="2031" y="997" width="4" height="1" fill="#000"/>
<text x="2035.5" y="1001.3" font-size="12.5px" fill="#000" textLength="32.5" lengthAdjust="spacingAndGlyphs">30.00</text>
<rect x="2031" y="1032" width="4" height="1" fill="#000"/>
<text x="2035.5" y="1030.3" font-size="12.5px" fill="#000" textLength="25.5" lengthAdjust="spacingAndGlyphs">0.00</text>
<rect x="2031" y="1036" width="4" height="1" fill="#000"/>
<text x="2035.5" y="1046.8" font-size="12.5px" fill="#000" textLength="45.5" lengthAdjust="spacingAndGlyphs">668.086</text>
<rect x="2031" y="1122" width="4" height="1" fill="#000"/>
<text x="2035.5" y="1120.8" font-size="12.5px" fill="#000" textLength="50" lengthAdjust="spacingAndGlyphs">-409.512</text>
<rect x="2" y="1124" width="1" height="4" fill="#000"/>
<text x="2" y="1139" font-size="12.5px" fill="#000" textLength="61.599999999999994" lengthAdjust="spacingAndGlyphs">4 Mar 2024</text>
<rect x="130" y="1124" width="1" height="4" fill="#000"/>
<text x="130" y="1139" font-size="12.5px" fill="#000" textLength="68.89999999999999" lengthAdjust="spacingAndGlyphs">26 Mar 2024</text>
<rect x="258" y="1124" width="1" height="4" fill="#000"/>
<text x="258" y="1139" font-size="12.5px" fill="#000" textLength="68.39999999999999" lengthAdjust="spacingAndGlyphs">18 Apr 2024</text>
<rect x="386" y="1124" width="1" height="4" fill="#000"/>
<text x="386" y="1139" font-size="12.5px" fill="#000" textLength="70.6" lengthAdjust="spacingAndGlyphs">10 May 2024</text>
<rect x="514" y="1124" width="1" height="4" fill="#000"/>
<text x="514" y="1139" font-size="12.5px" fill="#000" textLength="61.8" lengthAdjust="spacingAndGlyphs">3 Jun 2024</text>
<rect x="642" y="1124" width="1" height="4" fill="#000"/>
<text x="642" y="1139" font-size="12.5px" fill="#000" textLength="68.89999999999999" lengthAdjust="spacingAndGlyphs">25 Jun 2024</text>
<rect x="770" y="1124" width="1" height="4" fill="#000"/>
<text x="770" y="1139" font-size="12.5px" fill="#000" textLength="62.9" lengthAdjust="spacingAndGlyphs">17 Jul 2024</text>
<rect x="898" y="1124" width="1" height="4" fill="#000"/>
<text x="898" y="1139" font-size="12.5px" fill="#000" textLength="65.3" lengthAdjust="spacingAndGlyphs">8 Aug 2024</text>
<rect x="1026" y="1124" width="1" height="4" fill="#000"/>
<text x="1026" y="1139" font-size="12.5px" fill="#000" textLength="71.8" lengthAdjust="spacingAndGlyphs">30 Aug 2024</text>
<rect x="1154" y="1124" width="1" height="4" fill="#000"/>
<text x="1154" y="1139" font-size="12.5px" fill="#000" textLength="70.6" lengthAdjust="spacingAndGlyphs">23 Sep 2024</text>
<rect x="1282" y="1124" width="1" height="4" fill="#000"/>
<text x="1282" y="1139" font-size="12.5px" fill="#000" textLength="69.2" lengthAdjust="spacingAndGlyphs">15 Oct 2024</text>
<rect x="1410" y="1124" width="1" height="4" fill="#000"/>
<text x="1410" y="1139" font-size="12.5px" fill="#000" textLength="63.8" lengthAdjust="spacingAndGlyphs">6 Nov 2024</text>
<rect x="1538" y="1124" width="1" height="4" fill="#000"/>
<text x="1538" y="1139" font-size="12.5px" fill="#000" textLength="70.8" lengthAdjust="spacingAndGlyphs">28 Nov 2024</text>
</svg></body></html>
